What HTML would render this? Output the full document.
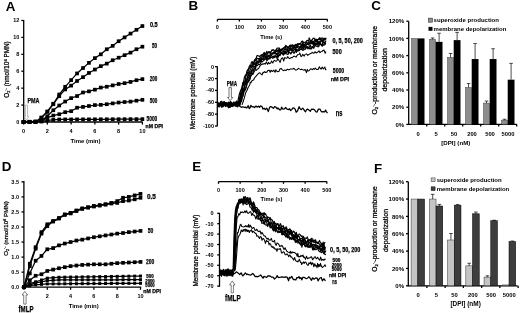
<!DOCTYPE html>
<html><head><meta charset="utf-8"><style>
html,body{margin:0;padding:0;background:#fff;width:520px;height:313px;overflow:hidden;}
svg{display:block;font-family:"Liberation Sans",sans-serif;will-change:transform;}
text{stroke:none;} .hv{stroke:#000;stroke-width:0.25px;}
</style></head><body>
<svg width="520" height="313" viewBox="0 0 520 313" font-family="Liberation Sans, sans-serif">
<defs><filter id="bl" x="0" y="0" width="520" height="313" filterUnits="userSpaceOnUse"><feGaussianBlur stdDeviation="0.3"/></filter></defs><rect width="520" height="313" fill="#fff"/><g filter="url(#bl)"><text x="5.80" y="10.50" font-size="13.40" font-weight="bold" text-anchor="start" fill="#000" >A</text>
<line x1="23.70" y1="20.00" x2="23.70" y2="122.60" stroke="#000" stroke-width="1.3"/>
<line x1="21.30" y1="122.00" x2="23.70" y2="122.00" stroke="#000" stroke-width="1.3"/>
<text x="19.40" y="123.95" font-size="5.50" font-weight="bold" text-anchor="end" fill="#000" >0</text>
<line x1="21.30" y1="105.08" x2="23.70" y2="105.08" stroke="#000" stroke-width="1.3"/>
<text x="19.40" y="107.03" font-size="5.50" font-weight="bold" text-anchor="end" fill="#000" >2</text>
<line x1="21.30" y1="88.16" x2="23.70" y2="88.16" stroke="#000" stroke-width="1.3"/>
<text x="19.40" y="90.11" font-size="5.50" font-weight="bold" text-anchor="end" fill="#000" >4</text>
<line x1="21.30" y1="71.24" x2="23.70" y2="71.24" stroke="#000" stroke-width="1.3"/>
<text x="19.40" y="73.19" font-size="5.50" font-weight="bold" text-anchor="end" fill="#000" >6</text>
<line x1="21.30" y1="54.32" x2="23.70" y2="54.32" stroke="#000" stroke-width="1.3"/>
<text x="19.40" y="56.27" font-size="5.50" font-weight="bold" text-anchor="end" fill="#000" >8</text>
<line x1="21.30" y1="37.40" x2="23.70" y2="37.40" stroke="#000" stroke-width="1.3"/>
<text x="19.40" y="39.35" font-size="5.50" font-weight="bold" text-anchor="end" fill="#000" >10</text>
<line x1="21.30" y1="20.48" x2="23.70" y2="20.48" stroke="#000" stroke-width="1.3"/>
<text x="19.40" y="22.43" font-size="5.50" font-weight="bold" text-anchor="end" fill="#000" >12</text>
<line x1="23.10" y1="122.00" x2="142.80" y2="122.00" stroke="#000" stroke-width="1.3"/>
<line x1="23.60" y1="122.00" x2="23.60" y2="124.60" stroke="#000" stroke-width="1.3"/>
<text x="23.60" y="132.90" font-size="5.50" font-weight="bold" text-anchor="middle" fill="#000" >0</text>
<line x1="47.36" y1="122.00" x2="47.36" y2="124.60" stroke="#000" stroke-width="1.3"/>
<text x="47.36" y="132.90" font-size="5.50" font-weight="bold" text-anchor="middle" fill="#000" >2</text>
<line x1="71.12" y1="122.00" x2="71.12" y2="124.60" stroke="#000" stroke-width="1.3"/>
<text x="71.12" y="132.90" font-size="5.50" font-weight="bold" text-anchor="middle" fill="#000" >4</text>
<line x1="94.88" y1="122.00" x2="94.88" y2="124.60" stroke="#000" stroke-width="1.3"/>
<text x="94.88" y="132.90" font-size="5.50" font-weight="bold" text-anchor="middle" fill="#000" >6</text>
<line x1="118.64" y1="122.00" x2="118.64" y2="124.60" stroke="#000" stroke-width="1.3"/>
<text x="118.64" y="132.90" font-size="5.50" font-weight="bold" text-anchor="middle" fill="#000" >8</text>
<line x1="142.40" y1="122.00" x2="142.40" y2="124.60" stroke="#000" stroke-width="1.3"/>
<text x="142.40" y="132.90" font-size="5.50" font-weight="bold" text-anchor="middle" fill="#000" >10</text>
<text x="85.50" y="142.60" font-size="6.00" font-weight="bold" text-anchor="middle" fill="#000" textLength="30.00" lengthAdjust="spacingAndGlyphs" >Time (min)</text>
<text x="9.20" y="69.50" font-size="6.30" font-weight="normal" text-anchor="middle" fill="#000" textLength="56.50" lengthAdjust="spacingAndGlyphs" transform="rotate(-90 9.20 69.50)" class="hv">O<tspan font-size="3.8" dy="1.3">2</tspan><tspan font-size="3.8" dy="-3.3">·-</tspan><tspan dy="2.0"> (nmol/10</tspan><tspan font-size="4.2" dy="-2.4">6</tspan><tspan dy="2.4"> PMN)</tspan></text>
<polyline points="23.60,122.00 29.54,122.00 35.48,122.00 41.42,117.52 47.36,111.42 53.30,103.73 59.24,94.50 65.18,86.81 71.12,80.12 77.06,73.44 83.00,68.03 88.94,62.86 94.88,58.13 100.82,54.32 106.76,49.24 112.70,45.86 118.64,41.21 124.58,37.40 130.52,33.59 136.46,29.79 142.40,26.06" fill="none" stroke="#000" stroke-width="1.25" stroke-linejoin="round"/>
<rect x="21.75" y="120.15" width="3.70" height="3.70" fill="#000"/>
<rect x="27.69" y="120.15" width="3.70" height="3.70" fill="#000"/>
<rect x="33.63" y="120.15" width="3.70" height="3.70" fill="#000"/>
<rect x="39.57" y="115.67" width="3.70" height="3.70" fill="#000"/>
<rect x="45.51" y="109.58" width="3.70" height="3.70" fill="#000"/>
<rect x="51.45" y="101.88" width="3.70" height="3.70" fill="#000"/>
<rect x="57.39" y="92.66" width="3.70" height="3.70" fill="#000"/>
<rect x="63.33" y="84.96" width="3.70" height="3.70" fill="#000"/>
<rect x="69.27" y="78.27" width="3.70" height="3.70" fill="#000"/>
<rect x="75.21" y="71.59" width="3.70" height="3.70" fill="#000"/>
<rect x="81.15" y="66.18" width="3.70" height="3.70" fill="#000"/>
<rect x="87.09" y="61.01" width="3.70" height="3.70" fill="#000"/>
<rect x="93.03" y="56.28" width="3.70" height="3.70" fill="#000"/>
<rect x="98.97" y="52.47" width="3.70" height="3.70" fill="#000"/>
<rect x="104.91" y="47.39" width="3.70" height="3.70" fill="#000"/>
<rect x="110.85" y="44.01" width="3.70" height="3.70" fill="#000"/>
<rect x="116.79" y="39.36" width="3.70" height="3.70" fill="#000"/>
<rect x="122.73" y="35.55" width="3.70" height="3.70" fill="#000"/>
<rect x="128.67" y="31.74" width="3.70" height="3.70" fill="#000"/>
<rect x="134.61" y="27.94" width="3.70" height="3.70" fill="#000"/>
<rect x="140.55" y="24.21" width="3.70" height="3.70" fill="#000"/>
<polyline points="23.60,122.00 29.54,122.00 35.48,122.00 41.42,117.77 47.36,111.85 53.30,104.23 59.24,96.20 65.18,89.43 71.12,85.62 77.06,80.97 83.00,77.16 88.94,72.93 94.88,69.55 100.82,66.16 106.76,63.63 112.70,60.24 118.64,57.70 124.58,55.17 130.52,52.63 136.46,49.24 142.40,46.71" fill="none" stroke="#000" stroke-width="1.25" stroke-linejoin="round"/>
<rect x="21.75" y="120.15" width="3.70" height="3.70" fill="#000"/>
<rect x="27.69" y="120.15" width="3.70" height="3.70" fill="#000"/>
<rect x="33.63" y="120.15" width="3.70" height="3.70" fill="#000"/>
<rect x="39.57" y="115.92" width="3.70" height="3.70" fill="#000"/>
<rect x="45.51" y="110.00" width="3.70" height="3.70" fill="#000"/>
<rect x="51.45" y="102.38" width="3.70" height="3.70" fill="#000"/>
<rect x="57.39" y="94.35" width="3.70" height="3.70" fill="#000"/>
<rect x="63.33" y="87.58" width="3.70" height="3.70" fill="#000"/>
<rect x="69.27" y="83.77" width="3.70" height="3.70" fill="#000"/>
<rect x="75.21" y="79.12" width="3.70" height="3.70" fill="#000"/>
<rect x="81.15" y="75.31" width="3.70" height="3.70" fill="#000"/>
<rect x="87.09" y="71.08" width="3.70" height="3.70" fill="#000"/>
<rect x="93.03" y="67.70" width="3.70" height="3.70" fill="#000"/>
<rect x="98.97" y="64.31" width="3.70" height="3.70" fill="#000"/>
<rect x="104.91" y="61.78" width="3.70" height="3.70" fill="#000"/>
<rect x="110.85" y="58.39" width="3.70" height="3.70" fill="#000"/>
<rect x="116.79" y="55.85" width="3.70" height="3.70" fill="#000"/>
<rect x="122.73" y="53.32" width="3.70" height="3.70" fill="#000"/>
<rect x="128.67" y="50.78" width="3.70" height="3.70" fill="#000"/>
<rect x="134.61" y="47.39" width="3.70" height="3.70" fill="#000"/>
<rect x="140.55" y="44.86" width="3.70" height="3.70" fill="#000"/>
<polyline points="23.60,122.00 29.54,122.00 35.48,122.00 41.42,120.31 47.36,116.16 53.30,110.24 59.24,105.50 65.18,101.53 71.12,98.14 77.06,96.03 83.00,92.47 88.94,91.37 94.88,89.68 100.82,87.57 106.76,86.72 112.70,85.37 118.64,84.01 124.58,83.17 130.52,81.90 136.46,80.21 142.40,79.11" fill="none" stroke="#000" stroke-width="1.25" stroke-linejoin="round"/>
<rect x="21.75" y="120.15" width="3.70" height="3.70" fill="#000"/>
<rect x="27.69" y="120.15" width="3.70" height="3.70" fill="#000"/>
<rect x="33.63" y="120.15" width="3.70" height="3.70" fill="#000"/>
<rect x="39.57" y="118.46" width="3.70" height="3.70" fill="#000"/>
<rect x="45.51" y="114.31" width="3.70" height="3.70" fill="#000"/>
<rect x="51.45" y="108.39" width="3.70" height="3.70" fill="#000"/>
<rect x="57.39" y="103.65" width="3.70" height="3.70" fill="#000"/>
<rect x="63.33" y="99.68" width="3.70" height="3.70" fill="#000"/>
<rect x="69.27" y="96.29" width="3.70" height="3.70" fill="#000"/>
<rect x="75.21" y="94.18" width="3.70" height="3.70" fill="#000"/>
<rect x="81.15" y="90.62" width="3.70" height="3.70" fill="#000"/>
<rect x="87.09" y="89.52" width="3.70" height="3.70" fill="#000"/>
<rect x="93.03" y="87.83" width="3.70" height="3.70" fill="#000"/>
<rect x="98.97" y="85.72" width="3.70" height="3.70" fill="#000"/>
<rect x="104.91" y="84.87" width="3.70" height="3.70" fill="#000"/>
<rect x="110.85" y="83.52" width="3.70" height="3.70" fill="#000"/>
<rect x="116.79" y="82.16" width="3.70" height="3.70" fill="#000"/>
<rect x="122.73" y="81.32" width="3.70" height="3.70" fill="#000"/>
<rect x="128.67" y="80.05" width="3.70" height="3.70" fill="#000"/>
<rect x="134.61" y="78.36" width="3.70" height="3.70" fill="#000"/>
<rect x="140.55" y="77.26" width="3.70" height="3.70" fill="#000"/>
<polyline points="23.60,122.00 29.54,121.72 35.48,121.44 41.42,121.15 47.36,117.60 53.30,115.57 59.24,114.22 65.18,112.19 71.12,111.17 77.06,107.70 83.00,106.94 88.94,106.01 94.88,105.08 100.82,104.83 106.76,104.23 112.70,103.39 118.64,102.54 124.58,102.03 130.52,101.61 136.46,100.68 142.40,99.83" fill="none" stroke="#000" stroke-width="1.25" stroke-linejoin="round"/>
<rect x="21.75" y="120.15" width="3.70" height="3.70" fill="#000"/>
<rect x="27.69" y="119.87" width="3.70" height="3.70" fill="#000"/>
<rect x="33.63" y="119.59" width="3.70" height="3.70" fill="#000"/>
<rect x="39.57" y="119.30" width="3.70" height="3.70" fill="#000"/>
<rect x="45.51" y="115.75" width="3.70" height="3.70" fill="#000"/>
<rect x="51.45" y="113.72" width="3.70" height="3.70" fill="#000"/>
<rect x="57.39" y="112.37" width="3.70" height="3.70" fill="#000"/>
<rect x="63.33" y="110.34" width="3.70" height="3.70" fill="#000"/>
<rect x="69.27" y="109.32" width="3.70" height="3.70" fill="#000"/>
<rect x="75.21" y="105.85" width="3.70" height="3.70" fill="#000"/>
<rect x="81.15" y="105.09" width="3.70" height="3.70" fill="#000"/>
<rect x="87.09" y="104.16" width="3.70" height="3.70" fill="#000"/>
<rect x="93.03" y="103.23" width="3.70" height="3.70" fill="#000"/>
<rect x="98.97" y="102.98" width="3.70" height="3.70" fill="#000"/>
<rect x="104.91" y="102.38" width="3.70" height="3.70" fill="#000"/>
<rect x="110.85" y="101.54" width="3.70" height="3.70" fill="#000"/>
<rect x="116.79" y="100.69" width="3.70" height="3.70" fill="#000"/>
<rect x="122.73" y="100.18" width="3.70" height="3.70" fill="#000"/>
<rect x="128.67" y="99.76" width="3.70" height="3.70" fill="#000"/>
<rect x="134.61" y="98.83" width="3.70" height="3.70" fill="#000"/>
<rect x="140.55" y="97.98" width="3.70" height="3.70" fill="#000"/>
<polyline points="23.60,122.00 29.54,121.86 35.48,121.72 41.42,121.58 47.36,120.31 53.30,119.89 59.24,119.46 65.18,119.44 71.12,119.41 77.06,119.39 83.00,119.37 88.94,119.34 94.88,119.32 100.82,119.29 106.76,119.27 112.70,119.24 118.64,119.22 124.58,119.20 130.52,119.17 136.46,119.15 142.40,119.12" fill="none" stroke="#000" stroke-width="1.25" stroke-linejoin="round"/>
<rect x="21.75" y="120.15" width="3.70" height="3.70" fill="#000"/>
<rect x="27.69" y="120.01" width="3.70" height="3.70" fill="#000"/>
<rect x="33.63" y="119.87" width="3.70" height="3.70" fill="#000"/>
<rect x="39.57" y="119.73" width="3.70" height="3.70" fill="#000"/>
<rect x="45.51" y="118.46" width="3.70" height="3.70" fill="#000"/>
<rect x="51.45" y="118.04" width="3.70" height="3.70" fill="#000"/>
<rect x="57.39" y="117.61" width="3.70" height="3.70" fill="#000"/>
<rect x="63.33" y="117.59" width="3.70" height="3.70" fill="#000"/>
<rect x="69.27" y="117.56" width="3.70" height="3.70" fill="#000"/>
<rect x="75.21" y="117.54" width="3.70" height="3.70" fill="#000"/>
<rect x="81.15" y="117.52" width="3.70" height="3.70" fill="#000"/>
<rect x="87.09" y="117.49" width="3.70" height="3.70" fill="#000"/>
<rect x="93.03" y="117.47" width="3.70" height="3.70" fill="#000"/>
<rect x="98.97" y="117.44" width="3.70" height="3.70" fill="#000"/>
<rect x="104.91" y="117.42" width="3.70" height="3.70" fill="#000"/>
<rect x="110.85" y="117.39" width="3.70" height="3.70" fill="#000"/>
<rect x="116.79" y="117.37" width="3.70" height="3.70" fill="#000"/>
<rect x="122.73" y="117.35" width="3.70" height="3.70" fill="#000"/>
<rect x="128.67" y="117.32" width="3.70" height="3.70" fill="#000"/>
<rect x="134.61" y="117.30" width="3.70" height="3.70" fill="#000"/>
<rect x="140.55" y="117.27" width="3.70" height="3.70" fill="#000"/>
<text x="150.00" y="26.50" font-size="6.50" font-weight="bold" text-anchor="start" fill="#000" textLength="7.70" lengthAdjust="spacingAndGlyphs" class="hv">0.5</text>
<text x="151.90" y="48.20" font-size="6.78" font-weight="bold" text-anchor="start" fill="#000" textLength="5.10" lengthAdjust="spacingAndGlyphs" class="hv">50</text>
<text x="149.70" y="81.10" font-size="6.64" font-weight="bold" text-anchor="start" fill="#000" textLength="7.60" lengthAdjust="spacingAndGlyphs" class="hv">200</text>
<text x="149.70" y="102.50" font-size="6.64" font-weight="bold" text-anchor="start" fill="#000" textLength="7.60" lengthAdjust="spacingAndGlyphs" class="hv">500</text>
<text x="146.60" y="121.00" font-size="6.50" font-weight="bold" text-anchor="start" fill="#000" textLength="10.70" lengthAdjust="spacingAndGlyphs" class="hv">5000</text>
<text x="145.60" y="127.70" font-size="5.00" font-weight="bold" text-anchor="start" fill="#000" textLength="17.40" lengthAdjust="spacingAndGlyphs" class="hv">nM DPI</text>
<path d="M25.4,105.2 L25.4,116.5 L24.3,116.5 L26.5,120.3 L28.7,116.5 L27.6,116.5 L27.6,105.2 Z" fill="#fff" stroke="#888" stroke-width="0.6"/>
<text x="27.40" y="102.90" font-size="7.70" font-weight="bold" text-anchor="start" fill="#000" textLength="12.10" lengthAdjust="spacingAndGlyphs" class="hv">PMA</text>
<text x="1.80" y="170.60" font-size="13.40" font-weight="bold" text-anchor="start" fill="#000" >D</text>
<line x1="23.90" y1="181.00" x2="23.90" y2="287.60" stroke="#000" stroke-width="1.3"/>
<line x1="21.50" y1="287.20" x2="23.90" y2="287.20" stroke="#000" stroke-width="1.3"/>
<text x="19.00" y="289.15" font-size="5.50" font-weight="bold" text-anchor="end" fill="#000" >0.0</text>
<line x1="21.50" y1="272.15" x2="23.90" y2="272.15" stroke="#000" stroke-width="1.3"/>
<text x="19.00" y="274.10" font-size="5.50" font-weight="bold" text-anchor="end" fill="#000" >0.5</text>
<line x1="21.50" y1="257.10" x2="23.90" y2="257.10" stroke="#000" stroke-width="1.3"/>
<text x="19.00" y="259.05" font-size="5.50" font-weight="bold" text-anchor="end" fill="#000" >1.0</text>
<line x1="21.50" y1="242.05" x2="23.90" y2="242.05" stroke="#000" stroke-width="1.3"/>
<text x="19.00" y="244.00" font-size="5.50" font-weight="bold" text-anchor="end" fill="#000" >1.5</text>
<line x1="21.50" y1="227.00" x2="23.90" y2="227.00" stroke="#000" stroke-width="1.3"/>
<text x="19.00" y="228.95" font-size="5.50" font-weight="bold" text-anchor="end" fill="#000" >2.0</text>
<line x1="21.50" y1="211.95" x2="23.90" y2="211.95" stroke="#000" stroke-width="1.3"/>
<text x="19.00" y="213.90" font-size="5.50" font-weight="bold" text-anchor="end" fill="#000" >2.5</text>
<line x1="21.50" y1="196.90" x2="23.90" y2="196.90" stroke="#000" stroke-width="1.3"/>
<text x="19.00" y="198.85" font-size="5.50" font-weight="bold" text-anchor="end" fill="#000" >3.0</text>
<line x1="21.50" y1="181.85" x2="23.90" y2="181.85" stroke="#000" stroke-width="1.3"/>
<text x="19.00" y="183.80" font-size="5.50" font-weight="bold" text-anchor="end" fill="#000" >3.5</text>
<line x1="23.40" y1="287.20" x2="141.20" y2="287.20" stroke="#000" stroke-width="1.3"/>
<line x1="24.00" y1="287.20" x2="24.00" y2="289.80" stroke="#000" stroke-width="1.3"/>
<line x1="47.30" y1="287.20" x2="47.30" y2="289.80" stroke="#000" stroke-width="1.3"/>
<text x="47.30" y="298.00" font-size="5.50" font-weight="bold" text-anchor="middle" fill="#000" >2</text>
<line x1="70.60" y1="287.20" x2="70.60" y2="289.80" stroke="#000" stroke-width="1.3"/>
<text x="70.60" y="298.00" font-size="5.50" font-weight="bold" text-anchor="middle" fill="#000" >4</text>
<line x1="93.90" y1="287.20" x2="93.90" y2="289.80" stroke="#000" stroke-width="1.3"/>
<text x="93.90" y="298.00" font-size="5.50" font-weight="bold" text-anchor="middle" fill="#000" >6</text>
<line x1="117.20" y1="287.20" x2="117.20" y2="289.80" stroke="#000" stroke-width="1.3"/>
<text x="117.20" y="298.00" font-size="5.50" font-weight="bold" text-anchor="middle" fill="#000" >8</text>
<line x1="140.50" y1="287.20" x2="140.50" y2="289.80" stroke="#000" stroke-width="1.3"/>
<text x="140.50" y="298.00" font-size="5.50" font-weight="bold" text-anchor="middle" fill="#000" >10</text>
<text x="83.70" y="307.70" font-size="6.00" font-weight="bold" text-anchor="middle" fill="#000" textLength="30.00" lengthAdjust="spacingAndGlyphs" >Time (min)</text>
<text x="8.00" y="228.50" font-size="6.20" font-weight="normal" text-anchor="middle" fill="#000" textLength="54.50" lengthAdjust="spacingAndGlyphs" transform="rotate(-90 8.00 228.50)" class="hv">O<tspan font-size="3.8" dy="1.3">2</tspan><tspan font-size="3.8" dy="-3.3">·-</tspan><tspan dy="2.0"> (nmol/10</tspan><tspan font-size="4.2" dy="-2.4">6</tspan><tspan dy="2.4"> PMN)</tspan></text>
<polyline points="24.00,287.20 29.82,263.72 35.65,247.17 41.48,232.12 47.30,224.29 53.12,220.98 58.95,217.97 64.78,214.36 70.60,212.85 76.43,210.44 82.25,208.34 88.08,207.13 93.90,205.93 99.73,205.03 105.55,204.12 111.38,202.92 117.20,201.11 123.03,197.80 128.85,196.90 134.68,195.39 140.50,193.89" fill="none" stroke="#000" stroke-width="1.25" stroke-linejoin="round"/>
<rect x="22.15" y="285.35" width="3.70" height="3.70" fill="#000"/>
<rect x="27.97" y="261.87" width="3.70" height="3.70" fill="#000"/>
<rect x="33.80" y="245.32" width="3.70" height="3.70" fill="#000"/>
<rect x="39.62" y="230.27" width="3.70" height="3.70" fill="#000"/>
<rect x="45.45" y="222.44" width="3.70" height="3.70" fill="#000"/>
<rect x="51.27" y="219.13" width="3.70" height="3.70" fill="#000"/>
<rect x="57.10" y="216.12" width="3.70" height="3.70" fill="#000"/>
<rect x="62.93" y="212.51" width="3.70" height="3.70" fill="#000"/>
<rect x="68.75" y="211.00" width="3.70" height="3.70" fill="#000"/>
<rect x="74.58" y="208.59" width="3.70" height="3.70" fill="#000"/>
<rect x="80.40" y="206.49" width="3.70" height="3.70" fill="#000"/>
<rect x="86.23" y="205.28" width="3.70" height="3.70" fill="#000"/>
<rect x="92.05" y="204.08" width="3.70" height="3.70" fill="#000"/>
<rect x="97.88" y="203.18" width="3.70" height="3.70" fill="#000"/>
<rect x="103.70" y="202.27" width="3.70" height="3.70" fill="#000"/>
<rect x="109.53" y="201.07" width="3.70" height="3.70" fill="#000"/>
<rect x="115.35" y="199.26" width="3.70" height="3.70" fill="#000"/>
<rect x="121.18" y="195.95" width="3.70" height="3.70" fill="#000"/>
<rect x="127.00" y="195.05" width="3.70" height="3.70" fill="#000"/>
<rect x="132.83" y="193.54" width="3.70" height="3.70" fill="#000"/>
<rect x="138.65" y="192.04" width="3.70" height="3.70" fill="#000"/>
<polyline points="24.00,287.20 29.82,266.13 35.65,248.67 41.48,233.62 47.30,226.10 53.12,221.58 58.95,218.57 64.78,214.96 70.60,213.45 76.43,211.05 82.25,208.94 88.08,207.74 93.90,206.53 99.73,205.63 105.55,204.73 111.38,203.52 117.20,202.92 123.03,201.11 128.85,200.51 134.68,199.31 140.50,197.80" fill="none" stroke="#000" stroke-width="1.25" stroke-linejoin="round"/>
<rect x="22.15" y="285.35" width="3.70" height="3.70" fill="#000"/>
<rect x="27.97" y="264.28" width="3.70" height="3.70" fill="#000"/>
<rect x="33.80" y="246.82" width="3.70" height="3.70" fill="#000"/>
<rect x="39.62" y="231.77" width="3.70" height="3.70" fill="#000"/>
<rect x="45.45" y="224.25" width="3.70" height="3.70" fill="#000"/>
<rect x="51.27" y="219.73" width="3.70" height="3.70" fill="#000"/>
<rect x="57.10" y="216.72" width="3.70" height="3.70" fill="#000"/>
<rect x="62.93" y="213.11" width="3.70" height="3.70" fill="#000"/>
<rect x="68.75" y="211.60" width="3.70" height="3.70" fill="#000"/>
<rect x="74.58" y="209.20" width="3.70" height="3.70" fill="#000"/>
<rect x="80.40" y="207.09" width="3.70" height="3.70" fill="#000"/>
<rect x="86.23" y="205.89" width="3.70" height="3.70" fill="#000"/>
<rect x="92.05" y="204.68" width="3.70" height="3.70" fill="#000"/>
<rect x="97.88" y="203.78" width="3.70" height="3.70" fill="#000"/>
<rect x="103.70" y="202.88" width="3.70" height="3.70" fill="#000"/>
<rect x="109.53" y="201.67" width="3.70" height="3.70" fill="#000"/>
<rect x="115.35" y="201.07" width="3.70" height="3.70" fill="#000"/>
<rect x="121.18" y="199.26" width="3.70" height="3.70" fill="#000"/>
<rect x="127.00" y="198.66" width="3.70" height="3.70" fill="#000"/>
<rect x="132.83" y="197.46" width="3.70" height="3.70" fill="#000"/>
<rect x="138.65" y="195.95" width="3.70" height="3.70" fill="#000"/>
<polyline points="24.00,287.20 29.82,273.35 35.65,260.71 41.48,255.90 47.30,249.27 53.12,248.07 58.95,245.36 64.78,243.55 70.60,242.05 76.43,240.54 82.25,239.64 88.08,238.44 93.90,237.23 99.73,236.33 105.55,235.43 111.38,234.52 117.20,233.62 123.03,233.02 128.85,232.12 134.68,231.51 140.50,230.91" fill="none" stroke="#000" stroke-width="1.25" stroke-linejoin="round"/>
<rect x="22.15" y="285.35" width="3.70" height="3.70" fill="#000"/>
<rect x="27.97" y="271.50" width="3.70" height="3.70" fill="#000"/>
<rect x="33.80" y="258.86" width="3.70" height="3.70" fill="#000"/>
<rect x="39.62" y="254.05" width="3.70" height="3.70" fill="#000"/>
<rect x="45.45" y="247.42" width="3.70" height="3.70" fill="#000"/>
<rect x="51.27" y="246.22" width="3.70" height="3.70" fill="#000"/>
<rect x="57.10" y="243.51" width="3.70" height="3.70" fill="#000"/>
<rect x="62.93" y="241.70" width="3.70" height="3.70" fill="#000"/>
<rect x="68.75" y="240.20" width="3.70" height="3.70" fill="#000"/>
<rect x="74.58" y="238.69" width="3.70" height="3.70" fill="#000"/>
<rect x="80.40" y="237.79" width="3.70" height="3.70" fill="#000"/>
<rect x="86.23" y="236.59" width="3.70" height="3.70" fill="#000"/>
<rect x="92.05" y="235.38" width="3.70" height="3.70" fill="#000"/>
<rect x="97.88" y="234.48" width="3.70" height="3.70" fill="#000"/>
<rect x="103.70" y="233.58" width="3.70" height="3.70" fill="#000"/>
<rect x="109.53" y="232.67" width="3.70" height="3.70" fill="#000"/>
<rect x="115.35" y="231.77" width="3.70" height="3.70" fill="#000"/>
<rect x="121.18" y="231.17" width="3.70" height="3.70" fill="#000"/>
<rect x="127.00" y="230.27" width="3.70" height="3.70" fill="#000"/>
<rect x="132.83" y="229.66" width="3.70" height="3.70" fill="#000"/>
<rect x="138.65" y="229.06" width="3.70" height="3.70" fill="#000"/>
<polyline points="24.00,287.20 29.82,280.28 35.65,275.76 41.48,274.26 47.30,270.95 53.12,269.59 58.95,268.24 64.78,267.18 70.60,266.13 76.43,265.53 82.25,264.93 88.08,264.62 93.90,264.32 99.73,264.32 105.55,264.32 111.38,263.72 117.20,263.12 123.03,262.82 128.85,262.52 134.68,262.22 140.50,261.92" fill="none" stroke="#000" stroke-width="1.25" stroke-linejoin="round"/>
<rect x="22.15" y="285.35" width="3.70" height="3.70" fill="#000"/>
<rect x="27.97" y="278.43" width="3.70" height="3.70" fill="#000"/>
<rect x="33.80" y="273.91" width="3.70" height="3.70" fill="#000"/>
<rect x="39.62" y="272.41" width="3.70" height="3.70" fill="#000"/>
<rect x="45.45" y="269.10" width="3.70" height="3.70" fill="#000"/>
<rect x="51.27" y="267.74" width="3.70" height="3.70" fill="#000"/>
<rect x="57.10" y="266.39" width="3.70" height="3.70" fill="#000"/>
<rect x="62.93" y="265.33" width="3.70" height="3.70" fill="#000"/>
<rect x="68.75" y="264.28" width="3.70" height="3.70" fill="#000"/>
<rect x="74.58" y="263.68" width="3.70" height="3.70" fill="#000"/>
<rect x="80.40" y="263.08" width="3.70" height="3.70" fill="#000"/>
<rect x="86.23" y="262.77" width="3.70" height="3.70" fill="#000"/>
<rect x="92.05" y="262.47" width="3.70" height="3.70" fill="#000"/>
<rect x="97.88" y="262.47" width="3.70" height="3.70" fill="#000"/>
<rect x="103.70" y="262.47" width="3.70" height="3.70" fill="#000"/>
<rect x="109.53" y="261.87" width="3.70" height="3.70" fill="#000"/>
<rect x="115.35" y="261.27" width="3.70" height="3.70" fill="#000"/>
<rect x="121.18" y="260.97" width="3.70" height="3.70" fill="#000"/>
<rect x="127.00" y="260.67" width="3.70" height="3.70" fill="#000"/>
<rect x="132.83" y="260.37" width="3.70" height="3.70" fill="#000"/>
<rect x="138.65" y="260.07" width="3.70" height="3.70" fill="#000"/>
<polyline points="24.00,287.20 29.82,283.59 35.65,281.78 41.48,279.98 47.30,278.17 53.12,277.72 58.95,277.27 64.78,277.18 70.60,277.09 76.43,277.01 82.25,276.92 88.08,276.84 93.90,276.75 99.73,276.66 105.55,276.58 111.38,276.49 117.20,276.41 123.03,276.32 128.85,276.24 134.68,276.15 140.50,276.06" fill="none" stroke="#000" stroke-width="1.25" stroke-linejoin="round"/>
<rect x="22.50" y="285.70" width="3.00" height="3.00" fill="#000"/>
<rect x="28.32" y="282.09" width="3.00" height="3.00" fill="#000"/>
<rect x="34.15" y="280.28" width="3.00" height="3.00" fill="#000"/>
<rect x="39.98" y="278.48" width="3.00" height="3.00" fill="#000"/>
<rect x="45.80" y="276.67" width="3.00" height="3.00" fill="#000"/>
<rect x="51.62" y="276.22" width="3.00" height="3.00" fill="#000"/>
<rect x="57.45" y="275.77" width="3.00" height="3.00" fill="#000"/>
<rect x="63.28" y="275.68" width="3.00" height="3.00" fill="#000"/>
<rect x="69.10" y="275.59" width="3.00" height="3.00" fill="#000"/>
<rect x="74.93" y="275.51" width="3.00" height="3.00" fill="#000"/>
<rect x="80.75" y="275.42" width="3.00" height="3.00" fill="#000"/>
<rect x="86.58" y="275.34" width="3.00" height="3.00" fill="#000"/>
<rect x="92.40" y="275.25" width="3.00" height="3.00" fill="#000"/>
<rect x="98.23" y="275.16" width="3.00" height="3.00" fill="#000"/>
<rect x="104.05" y="275.08" width="3.00" height="3.00" fill="#000"/>
<rect x="109.88" y="274.99" width="3.00" height="3.00" fill="#000"/>
<rect x="115.70" y="274.91" width="3.00" height="3.00" fill="#000"/>
<rect x="121.53" y="274.82" width="3.00" height="3.00" fill="#000"/>
<rect x="127.35" y="274.74" width="3.00" height="3.00" fill="#000"/>
<rect x="133.18" y="274.65" width="3.00" height="3.00" fill="#000"/>
<rect x="139.00" y="274.56" width="3.00" height="3.00" fill="#000"/>
<polyline points="24.00,287.20 29.82,284.79 35.65,282.99 41.48,281.78 47.30,280.58 53.12,280.28 58.95,279.98 64.78,279.95 70.60,279.93 76.43,279.91 82.25,279.89 88.08,279.87 93.90,279.85 99.73,279.83 105.55,279.80 111.38,279.78 117.20,279.76 123.03,279.74 128.85,279.72 134.68,279.70 140.50,279.68" fill="none" stroke="#000" stroke-width="1.25" stroke-linejoin="round"/>
<rect x="22.50" y="285.70" width="3.00" height="3.00" fill="#000"/>
<rect x="28.32" y="283.29" width="3.00" height="3.00" fill="#000"/>
<rect x="34.15" y="281.49" width="3.00" height="3.00" fill="#000"/>
<rect x="39.98" y="280.28" width="3.00" height="3.00" fill="#000"/>
<rect x="45.80" y="279.08" width="3.00" height="3.00" fill="#000"/>
<rect x="51.62" y="278.78" width="3.00" height="3.00" fill="#000"/>
<rect x="57.45" y="278.48" width="3.00" height="3.00" fill="#000"/>
<rect x="63.28" y="278.45" width="3.00" height="3.00" fill="#000"/>
<rect x="69.10" y="278.43" width="3.00" height="3.00" fill="#000"/>
<rect x="74.93" y="278.41" width="3.00" height="3.00" fill="#000"/>
<rect x="80.75" y="278.39" width="3.00" height="3.00" fill="#000"/>
<rect x="86.58" y="278.37" width="3.00" height="3.00" fill="#000"/>
<rect x="92.40" y="278.35" width="3.00" height="3.00" fill="#000"/>
<rect x="98.23" y="278.33" width="3.00" height="3.00" fill="#000"/>
<rect x="104.05" y="278.30" width="3.00" height="3.00" fill="#000"/>
<rect x="109.88" y="278.28" width="3.00" height="3.00" fill="#000"/>
<rect x="115.70" y="278.26" width="3.00" height="3.00" fill="#000"/>
<rect x="121.53" y="278.24" width="3.00" height="3.00" fill="#000"/>
<rect x="127.35" y="278.22" width="3.00" height="3.00" fill="#000"/>
<rect x="133.18" y="278.20" width="3.00" height="3.00" fill="#000"/>
<rect x="139.00" y="278.18" width="3.00" height="3.00" fill="#000"/>
<polyline points="24.00,287.20 29.82,285.69 35.65,284.79 41.48,284.34 47.30,283.89 53.12,283.85 58.95,283.81 64.78,283.78 70.60,283.74 76.43,283.70 82.25,283.66 88.08,283.63 93.90,283.59 99.73,283.55 105.55,283.51 111.38,283.48 117.20,283.44 123.03,283.40 128.85,283.36 134.68,283.32 140.50,283.29" fill="none" stroke="#000" stroke-width="1.25" stroke-linejoin="round"/>
<rect x="22.50" y="285.70" width="3.00" height="3.00" fill="#000"/>
<rect x="28.32" y="284.19" width="3.00" height="3.00" fill="#000"/>
<rect x="34.15" y="283.29" width="3.00" height="3.00" fill="#000"/>
<rect x="39.98" y="282.84" width="3.00" height="3.00" fill="#000"/>
<rect x="45.80" y="282.39" width="3.00" height="3.00" fill="#000"/>
<rect x="51.62" y="282.35" width="3.00" height="3.00" fill="#000"/>
<rect x="57.45" y="282.31" width="3.00" height="3.00" fill="#000"/>
<rect x="63.28" y="282.28" width="3.00" height="3.00" fill="#000"/>
<rect x="69.10" y="282.24" width="3.00" height="3.00" fill="#000"/>
<rect x="74.93" y="282.20" width="3.00" height="3.00" fill="#000"/>
<rect x="80.75" y="282.16" width="3.00" height="3.00" fill="#000"/>
<rect x="86.58" y="282.13" width="3.00" height="3.00" fill="#000"/>
<rect x="92.40" y="282.09" width="3.00" height="3.00" fill="#000"/>
<rect x="98.23" y="282.05" width="3.00" height="3.00" fill="#000"/>
<rect x="104.05" y="282.01" width="3.00" height="3.00" fill="#000"/>
<rect x="109.88" y="281.98" width="3.00" height="3.00" fill="#000"/>
<rect x="115.70" y="281.94" width="3.00" height="3.00" fill="#000"/>
<rect x="121.53" y="281.90" width="3.00" height="3.00" fill="#000"/>
<rect x="127.35" y="281.86" width="3.00" height="3.00" fill="#000"/>
<rect x="133.18" y="281.82" width="3.00" height="3.00" fill="#000"/>
<rect x="139.00" y="281.79" width="3.00" height="3.00" fill="#000"/>
<text x="146.90" y="199.00" font-size="6.50" font-weight="bold" text-anchor="start" fill="#000" textLength="8.90" lengthAdjust="spacingAndGlyphs" class="hv">0.5</text>
<text x="147.70" y="233.40" font-size="6.64" font-weight="bold" text-anchor="start" fill="#000" textLength="5.60" lengthAdjust="spacingAndGlyphs" class="hv">50</text>
<text x="146.00" y="263.80" font-size="6.78" font-weight="bold" text-anchor="start" fill="#000" textLength="8.30" lengthAdjust="spacingAndGlyphs" class="hv">200</text>
<text x="146.30" y="278.30" font-size="4.80" font-weight="bold" text-anchor="start" fill="#000" textLength="7.40" lengthAdjust="spacingAndGlyphs" class="hv">500</text>
<text x="145.30" y="282.70" font-size="4.80" font-weight="bold" text-anchor="start" fill="#000" textLength="9.40" lengthAdjust="spacingAndGlyphs" class="hv">2000</text>
<text x="145.30" y="287.10" font-size="4.80" font-weight="bold" text-anchor="start" fill="#000" textLength="9.40" lengthAdjust="spacingAndGlyphs" class="hv">5000</text>
<text x="143.30" y="292.60" font-size="5.20" font-weight="bold" text-anchor="start" fill="#000" textLength="17.60" lengthAdjust="spacingAndGlyphs" class="hv">nM DPI</text>
<path d="M24.8,291.4 L22.1,295 L23.7,295 L23.7,304.1 L26.1,304.1 L26.1,295 L27.6,295 Z" fill="#fff" stroke="#000" stroke-width="0.5"/>
<text x="18.50" y="311.80" font-size="8.72" font-weight="bold" text-anchor="start" fill="#000" textLength="15.00" lengthAdjust="spacingAndGlyphs" class="hv">fMLP</text>
<text x="188.40" y="10.10" font-size="13.40" font-weight="bold" text-anchor="start" fill="#000" >B</text>
<line x1="217.40" y1="19.40" x2="327.60" y2="19.40" stroke="#000" stroke-width="1.3"/>
<line x1="217.40" y1="19.40" x2="217.40" y2="21.60" stroke="#000" stroke-width="1.3"/>
<text x="217.40" y="29.20" font-size="5.50" font-weight="bold" text-anchor="middle" fill="#000" >0</text>
<line x1="239.40" y1="19.40" x2="239.40" y2="21.60" stroke="#000" stroke-width="1.3"/>
<text x="239.40" y="29.20" font-size="5.50" font-weight="bold" text-anchor="middle" fill="#000" >100</text>
<line x1="261.40" y1="19.40" x2="261.40" y2="21.60" stroke="#000" stroke-width="1.3"/>
<text x="261.40" y="29.20" font-size="5.50" font-weight="bold" text-anchor="middle" fill="#000" >200</text>
<line x1="283.40" y1="19.40" x2="283.40" y2="21.60" stroke="#000" stroke-width="1.3"/>
<text x="283.40" y="29.20" font-size="5.50" font-weight="bold" text-anchor="middle" fill="#000" >300</text>
<line x1="305.40" y1="19.40" x2="305.40" y2="21.60" stroke="#000" stroke-width="1.3"/>
<text x="305.40" y="29.20" font-size="5.50" font-weight="bold" text-anchor="middle" fill="#000" >400</text>
<line x1="327.40" y1="19.40" x2="327.40" y2="21.60" stroke="#000" stroke-width="1.3"/>
<text x="327.40" y="29.20" font-size="5.50" font-weight="bold" text-anchor="middle" fill="#000" >500</text>
<text x="271.20" y="39.10" font-size="6.00" font-weight="bold" text-anchor="middle" fill="#000" textLength="22.00" lengthAdjust="spacingAndGlyphs" >Time (s)</text>
<line x1="217.30" y1="66.30" x2="217.30" y2="126.20" stroke="#000" stroke-width="1.3"/>
<line x1="215.00" y1="66.70" x2="217.30" y2="66.70" stroke="#000" stroke-width="1.3"/>
<text x="214.00" y="68.65" font-size="5.50" font-weight="bold" text-anchor="end" fill="#000" >0</text>
<line x1="215.00" y1="78.57" x2="217.30" y2="78.57" stroke="#000" stroke-width="1.3"/>
<text x="214.00" y="80.52" font-size="5.50" font-weight="bold" text-anchor="end" fill="#000" >-20</text>
<line x1="215.00" y1="90.44" x2="217.30" y2="90.44" stroke="#000" stroke-width="1.3"/>
<text x="214.00" y="92.39" font-size="5.50" font-weight="bold" text-anchor="end" fill="#000" >-40</text>
<line x1="215.00" y1="102.31" x2="217.30" y2="102.31" stroke="#000" stroke-width="1.3"/>
<text x="214.00" y="104.26" font-size="5.50" font-weight="bold" text-anchor="end" fill="#000" >-60</text>
<line x1="215.00" y1="114.18" x2="217.30" y2="114.18" stroke="#000" stroke-width="1.3"/>
<text x="214.00" y="116.13" font-size="5.50" font-weight="bold" text-anchor="end" fill="#000" >-80</text>
<line x1="215.00" y1="126.05" x2="217.30" y2="126.05" stroke="#000" stroke-width="1.3"/>
<text x="214.00" y="128.00" font-size="5.50" font-weight="bold" text-anchor="end" fill="#000" >-100</text>
<text x="194.60" y="93.00" font-size="6.30" font-weight="normal" text-anchor="middle" fill="#000" textLength="72.60" lengthAdjust="spacingAndGlyphs" transform="rotate(-90 194.60 93.00)" class="hv">Membrane potential (mV)</text>
<polyline points="237.00,104.32 237.65,103.19 238.27,99.08 239.43,93.92 240.35,91.08 241.17,89.40 242.20,87.48 242.74,82.68 243.46,82.85 244.34,77.40 245.42,74.94 245.96,75.60 246.83,71.57 247.60,69.63 248.17,70.37 248.98,67.23 249.91,65.15 250.53,66.58 251.36,62.52 252.10,61.56 253.01,63.06 253.68,62.49 254.60,59.82 255.38,59.26 256.23,57.80 257.02,55.66 257.56,55.53 258.75,56.04 259.60,56.44 260.58,55.60 261.20,55.03 262.14,55.29 263.20,53.93 264.20,52.49 265.23,55.33 266.20,53.32 266.84,51.25 267.49,53.67 268.32,52.53 269.11,51.85 269.87,51.81 270.80,52.54 271.35,51.12 272.11,49.75 272.94,50.35 273.72,49.74 274.85,51.81 275.90,50.66 277.09,48.08 278.17,48.25 279.18,47.91 279.80,49.12 280.46,49.67 281.36,49.46 281.88,48.73 282.75,48.46 283.48,49.13 284.58,47.12 285.19,47.93 285.72,46.95 286.50,46.24 287.60,46.91 288.78,47.05 289.53,45.72 290.33,46.82 291.27,46.81 292.03,44.96 293.19,46.25 294.27,45.39 295.29,44.64 295.92,45.46 296.65,44.61 297.64,43.62 298.81,43.94 299.61,43.65 300.70,43.56 301.53,41.56 302.70,41.13 303.72,42.94 304.43,42.56 305.32,42.05 306.06,42.01 306.99,40.41 307.70,40.71 308.63,41.08 309.16,37.94 309.75,39.12 310.71,41.90 311.26,40.28 311.79,40.36 312.55,39.19 313.38,38.24 313.98,38.07 315.04,39.63 316.06,39.22 317.00,39.59 317.66,39.51 318.75,39.18 319.47,37.72 319.99,38.57 321.07,38.15 321.68,38.13 322.38,38.18 323.27,38.42 324.22,39.29 325.04,39.31 325.81,38.70" fill="none" stroke="#000" stroke-width="1.2" stroke-linejoin="round"/>
<polyline points="237.60,104.66 238.43,101.56 239.28,100.38 239.89,97.02 240.81,92.20 241.76,88.76 242.40,85.48 243.21,84.91 244.06,82.27 245.25,80.35 245.97,75.17 246.75,75.22 247.84,71.66 248.67,69.27 249.71,67.84 250.87,66.27 251.45,67.24 252.34,63.87 252.94,62.91 253.60,64.71 254.31,61.62 255.40,59.96 256.06,61.12 256.77,58.05 257.45,58.63 258.61,58.53 259.24,58.99 259.92,57.86 260.56,58.27 261.36,54.77 262.03,55.23 262.95,54.40 263.51,55.28 264.43,55.96 264.95,52.74 265.66,54.26 266.77,54.54 267.68,53.29 268.67,51.76 269.50,52.48 270.07,53.57 271.08,53.53 271.83,53.72 272.62,53.49 273.55,52.15 274.12,53.35 275.12,52.09 275.93,49.93 276.46,51.06 277.45,51.14 278.13,49.55 278.78,51.13 279.59,49.34 280.24,50.66 281.35,49.55 281.95,50.22 282.94,48.44 283.76,47.81 284.69,47.86 285.87,45.32 286.84,47.23 287.74,47.29 288.77,48.10 289.95,45.42 290.89,45.07 291.96,46.79 292.84,44.78 293.71,45.88 294.33,46.65 295.12,45.69 295.77,44.49 296.72,46.79 297.45,44.51 298.50,44.48 299.28,44.47 300.42,43.89 300.96,44.07 302.09,45.07 302.63,44.42 303.46,45.27 304.43,44.89 305.41,43.38 306.48,42.22 307.61,43.39 308.71,42.00 309.59,42.25 310.18,41.42 310.72,42.17 311.31,40.56 312.13,42.75 312.81,41.08 313.96,41.68 314.75,40.27 315.93,40.79 316.66,40.72 317.66,39.98 318.31,39.74 319.10,38.78 320.04,39.93 320.96,39.04 322.03,39.33 323.16,41.06 323.76,39.86 324.34,38.99 324.94,38.23 325.83,39.78" fill="none" stroke="#000" stroke-width="1.2" stroke-linejoin="round"/>
<polyline points="238.20,104.99 238.81,101.48 239.87,98.40 240.83,94.22 241.95,92.67 242.93,86.25 243.99,83.78 244.79,82.89 245.67,80.31 246.78,78.98 247.75,75.64 248.69,71.83 249.38,72.89 250.10,69.90 251.00,68.22 252.09,65.74 252.63,66.66 253.29,64.40 254.14,64.87 254.90,62.92 256.00,63.06 256.88,61.30 257.80,61.58 258.43,60.04 259.02,59.70 260.16,59.59 260.75,58.80 261.50,58.17 262.32,56.33 263.41,57.12 264.42,53.86 265.02,56.45 265.83,56.76 266.97,57.06 267.88,56.84 268.62,56.06 269.14,56.38 270.26,54.82 271.03,53.56 272.18,53.89 272.77,54.18 273.45,52.63 274.06,52.11 275.08,53.96 275.61,52.20 276.58,51.16 277.73,50.92 278.37,50.32 279.23,50.09 280.15,50.37 281.24,50.19 282.27,51.21 283.44,50.91 284.45,49.89 285.16,48.56 285.85,49.99 286.99,48.50 288.11,47.31 289.20,49.32 290.13,47.76 290.90,48.86 291.55,49.14 292.09,48.99 292.85,47.13 293.95,46.76 294.47,45.81 295.09,46.69 295.73,48.21 296.31,47.12 297.18,47.82 298.12,46.98 298.91,47.02 300.05,47.16 301.21,45.59 302.13,46.84 302.69,42.54 303.83,45.32 304.97,45.15 306.14,44.75 307.08,43.69 308.16,43.82 308.89,44.64 310.08,41.98 310.68,42.01 311.49,42.48 312.40,44.07 313.14,43.39 313.70,41.94 314.78,42.36 315.52,41.45 316.36,41.23 317.06,41.64 318.20,43.80 319.31,42.45 320.40,40.96 321.35,40.40 322.43,41.96 323.27,39.73 323.93,40.60 324.63,38.78 325.65,38.32 326.46,38.67" fill="none" stroke="#000" stroke-width="1.2" stroke-linejoin="round"/>
<polyline points="238.80,104.94 239.89,99.32 240.55,96.79 241.21,95.37 242.13,91.45 243.23,89.98 244.25,87.45 245.34,84.26 246.14,80.87 246.73,80.87 247.71,78.53 248.68,74.45 249.54,73.25 250.32,71.80 250.99,71.68 251.77,69.81 252.62,68.56 253.63,66.62 254.37,66.83 255.33,65.82 256.18,62.53 256.71,63.36 257.36,62.96 257.98,62.51 258.96,62.82 259.83,60.20 260.96,60.69 261.82,58.14 262.44,59.29 263.10,59.53 264.09,56.73 265.17,57.00 266.20,56.68 267.00,54.95 267.92,56.69 268.75,55.04 269.56,56.24 270.63,53.89 271.16,53.79 272.27,52.92 272.87,53.90 273.75,52.39 274.85,53.44 275.59,52.65 276.56,53.68 277.37,53.80 278.49,51.63 279.55,51.90 280.26,49.25 280.84,53.32 281.90,52.21 282.90,52.27 283.62,51.50 284.66,51.04 285.36,52.45 286.52,49.36 287.57,49.07 288.74,50.77 289.81,50.69 290.66,47.41 291.23,49.48 291.77,50.62 292.30,50.09 293.02,49.58 293.82,46.75 294.49,47.26 295.52,48.94 296.19,46.70 296.80,47.62 297.54,45.63 298.14,46.12 298.75,45.94 299.50,47.59 300.36,48.04 301.06,45.47 301.79,47.50 302.50,45.26 303.28,49.25 303.94,45.61 305.10,47.16 305.75,44.64 306.35,45.18 306.97,44.38 307.78,44.32 308.56,44.88 309.15,43.31 310.19,43.43 310.91,43.71 311.90,43.54 312.56,41.61 313.72,44.92 314.44,43.34 315.43,43.16 316.10,44.17 316.67,43.86 317.48,40.21 318.16,45.22 318.89,41.37 319.51,43.30 320.54,42.22 321.48,40.33 322.22,41.10 323.00,42.24 324.04,41.83 325.04,42.96 325.93,40.46" fill="none" stroke="#000" stroke-width="1.2" stroke-linejoin="round"/>
<polyline points="239.40,104.90 240.55,99.29 241.51,97.25 242.55,92.18 243.30,91.54 243.91,89.54 244.86,84.37 245.96,83.68 247.07,80.81 247.98,78.20 249.00,77.10 249.93,73.89 250.52,73.09 251.14,73.47 251.94,70.97 252.66,70.68 253.35,69.70 254.19,68.67 255.00,67.26 255.52,66.32 256.28,63.92 257.33,62.35 257.86,63.00 258.91,61.41 259.95,60.82 260.58,61.66 261.58,59.23 262.60,59.16 263.24,59.05 264.13,59.69 264.66,59.29 265.23,56.80 265.88,57.79 266.43,59.10 267.22,56.71 267.85,58.78 268.95,58.85 270.02,57.17 271.18,54.93 272.36,56.55 273.50,56.56 274.05,55.78 274.59,56.87 275.70,56.42 276.22,54.05 277.13,54.72 278.14,53.52 278.73,53.15 279.47,52.82 280.50,52.29 281.62,53.16 282.36,52.88 283.39,54.23 284.16,51.84 285.33,53.57 286.42,52.84 287.38,50.37 288.30,52.69 289.42,49.25 290.42,49.52 291.18,50.81 292.05,48.98 292.87,51.57 293.59,50.00 294.43,49.53 295.06,48.46 295.61,49.89 296.33,49.31 297.08,50.28 297.83,50.82 298.35,50.23 299.00,47.74 299.66,49.04 300.70,49.31 301.26,49.55 302.17,48.20 302.94,46.73 303.88,46.56 304.45,46.91 305.03,47.50 305.58,49.07 306.70,46.40 307.88,48.85 308.60,47.08 309.48,47.26 310.10,44.82 310.66,46.17 311.76,47.46 312.80,46.76 313.79,44.92 314.75,44.01 315.40,45.56 315.93,43.91 316.54,43.64 317.42,44.91 318.26,45.29 318.87,44.91 320.03,43.28 320.99,44.27 321.82,45.63 322.70,42.61 323.88,42.28 324.56,43.89 325.08,42.87 325.93,43.83" fill="none" stroke="#000" stroke-width="1.2" stroke-linejoin="round"/>
<polyline points="240.00,103.22 240.62,101.37 241.59,101.33 242.33,96.54 243.00,96.44 243.66,93.28 244.48,89.32 245.23,90.02 246.02,88.31 247.17,82.10 248.32,81.49 249.17,77.91 249.71,79.06 250.49,75.21 251.24,74.02 251.97,73.35 252.53,74.28 253.12,72.00 254.26,68.83 255.41,68.78 256.58,64.73 257.48,65.66 258.46,64.03 259.48,64.75 260.40,63.88 261.52,60.80 262.26,61.83 262.94,61.08 263.92,60.36 264.91,58.95 266.00,58.78 266.90,60.79 267.48,59.92 268.32,58.72 268.83,57.86 269.91,58.80 270.93,57.07 271.80,57.45 272.41,58.23 273.51,57.85 274.21,56.08 274.76,57.56 275.34,55.83 276.39,56.68 277.05,58.65 277.72,54.95 278.32,57.19 279.15,53.74 279.96,55.65 280.78,53.92 281.71,53.03 282.53,54.17 283.32,55.21 284.48,53.91 285.37,52.79 286.40,53.92 287.38,54.19 288.01,54.40 289.12,52.16 290.25,52.86 290.87,54.08 291.91,51.86 292.98,51.82 293.76,53.07 294.49,53.08 295.45,49.78 296.42,52.48 297.10,49.47 297.74,51.00 298.36,50.48 299.25,50.71 300.24,49.32 300.91,49.13 301.82,48.76 302.77,50.45 303.89,49.79 304.44,49.21 305.38,48.43 306.43,47.44 307.50,46.73 308.66,48.04 309.27,48.77 310.24,47.71 310.92,49.20 312.06,48.04 312.65,46.47 313.74,48.31 314.80,45.68 315.95,45.81 316.73,46.34 317.87,46.60 318.81,46.74 319.39,44.21 320.29,43.85 321.27,45.11 322.35,46.05 322.91,43.52 323.67,45.23 324.86,44.67 325.54,44.13" fill="none" stroke="#000" stroke-width="1.2" stroke-linejoin="round"/>
<polyline points="240.00,105.37 241.46,100.38 242.88,94.39 244.42,90.58 245.47,87.71 246.43,86.28 247.52,82.18 248.26,82.26 249.14,80.89 250.01,79.34 250.91,76.16 252.37,74.03 253.17,74.11 253.94,72.20 255.40,69.59 256.21,70.42 257.58,68.94 258.64,68.55 259.45,66.65 260.19,65.72 261.12,64.74 262.22,63.89 263.35,64.12 264.25,63.44 265.11,64.19 266.34,62.03 267.55,64.34 268.48,62.22 269.22,63.76 270.74,63.09 271.48,60.93 272.76,62.94 274.27,60.34 275.68,61.14 276.88,60.80 277.86,58.69 279.29,60.95 280.17,62.42 281.12,59.14 282.07,57.91 282.81,57.85 283.68,61.03 284.65,57.62 285.53,57.91 286.81,58.27 287.73,56.62 288.70,58.07 289.78,58.61 291.00,57.61 292.26,57.78 293.49,56.34 294.59,56.33 296.05,57.15 297.51,54.87 299.05,54.39 299.79,52.87 300.87,56.38 301.61,56.37 302.76,54.30 304.21,56.10 305.05,54.37 306.46,53.87 307.82,55.39 308.75,54.42 310.16,53.81 311.68,53.04 312.34,52.34 313.77,53.32 315.16,51.70 316.18,53.05 317.63,52.21 318.92,50.91 320.02,52.61 320.89,51.79 321.93,51.58 322.64,50.67 323.98,50.00 325.19,53.29 325.87,51.49" fill="none" stroke="#000" stroke-width="1.05" stroke-linejoin="round"/>
<polyline points="242.00,104.90 243.08,102.03 244.19,98.35 245.67,92.78 247.14,89.98 248.48,86.71 249.62,85.26 250.30,82.24 250.98,82.71 251.77,80.92 252.49,80.41 253.73,79.80 254.46,78.02 255.42,76.96 256.92,75.15 257.81,74.19 259.33,72.85 260.45,73.28 261.21,74.09 262.17,74.84 262.97,72.29 263.77,72.70 264.65,71.59 265.32,72.41 266.80,72.12 267.82,70.46 269.23,70.21 270.24,72.20 271.03,70.19 272.27,71.54 273.72,70.11 275.06,72.29 275.84,69.73 276.84,71.18 277.78,71.68 279.04,71.27 279.83,69.08 281.18,68.44 282.11,69.58 283.31,70.73 284.63,69.96 285.95,70.58 287.37,69.23 288.23,69.62 289.11,69.67 290.49,69.04 291.63,69.08 292.74,69.08 293.57,68.26 294.29,68.70 295.52,70.05 296.62,69.91 297.70,69.29 298.40,68.35 299.78,69.14 300.78,69.65 301.51,69.14 302.96,69.72 304.21,70.13 305.08,69.29 306.47,72.61 307.31,69.40 308.04,71.03 309.10,70.70 309.94,69.53 310.83,68.77 312.24,69.64 313.42,68.51 314.49,69.26 315.31,68.09 316.81,69.57 318.09,69.54 319.37,66.71 320.11,68.17 321.10,69.16 322.22,67.07 323.37,69.07 324.84,66.96 325.57,69.67 326.40,69.63" fill="none" stroke="#000" stroke-width="1.05" stroke-linejoin="round"/>
<polyline points="239.00,105.69 239.90,106.16 241.47,107.30 242.77,106.77 244.17,107.29 245.19,107.09 246.81,107.98 248.20,105.58 249.22,108.54 250.07,107.76 250.84,105.38 252.05,106.88 253.65,106.72 254.65,107.52 256.02,105.94 257.08,107.17 258.71,106.14 259.60,107.27 260.66,105.91 262.15,106.75 262.92,109.10 264.08,108.19 265.36,109.51 266.78,108.11 268.28,111.59 269.61,107.32 270.75,106.66 271.81,107.07 273.36,108.38 274.67,106.66 275.90,107.02 277.22,108.93 277.98,107.99 279.56,109.76 280.82,109.85 281.57,107.20 282.96,109.12 284.46,108.92 285.59,107.49 286.98,109.17 288.51,109.71 289.50,108.66 290.72,110.55 291.92,109.32 292.97,107.94 294.19,108.14 295.24,109.44 296.15,112.21 297.61,110.72 299.10,106.70 300.07,108.63 301.34,109.64 302.71,108.07 303.92,109.61 304.69,110.84 305.52,111.84 306.40,109.92 307.50,109.03 309.10,110.24 310.34,111.24 311.59,109.09 312.46,109.42 313.54,109.12 314.90,110.29 316.00,111.79 316.92,112.22 318.45,109.14 319.93,109.08 320.81,110.84 321.72,111.77 323.12,111.65 324.61,111.93 325.57,110.06 326.33,111.60 327.49,113.12" fill="none" stroke="#000" stroke-width="1.25" stroke-linejoin="round"/>
<polyline points="217.50,103.34 217.94,103.08 218.50,105.19 219.47,106.97 220.45,101.90 220.96,105.06 221.89,105.81 222.61,101.95 223.48,105.98 224.22,105.47 225.14,104.24 225.74,106.61 226.30,102.81 226.89,104.01 227.73,104.38 228.26,104.51 229.16,105.00 229.62,107.58 230.30,107.33 230.87,105.70 231.66,106.53 232.37,103.22 232.91,104.11 233.74,104.63 234.38,104.06 235.24,105.79 235.87,105.87 236.83,103.75 237.63,103.36 238.07,103.03 238.71,105.34 239.15,101.95" fill="none" stroke="#000" stroke-width="1.05" stroke-linejoin="round"/>
<polyline points="217.50,101.87 218.14,102.30 218.62,105.29 219.13,105.14 219.62,104.08 220.27,102.75 220.70,104.73 221.24,104.19 222.19,103.02 222.94,106.89 223.83,102.80 224.72,102.42 225.55,105.95 226.09,106.52 226.62,103.82 227.06,104.07 227.70,106.74 228.66,107.94 229.52,103.28 230.29,105.81 230.77,106.68 231.52,102.56 232.17,105.82 233.14,104.36 234.01,106.01 234.74,101.99 235.71,102.15 236.32,105.95 237.01,105.66 237.58,104.66 238.36,101.63 238.86,105.05 239.82,103.11" fill="none" stroke="#000" stroke-width="1.05" stroke-linejoin="round"/>
<polyline points="217.50,102.46 218.09,104.45 218.91,104.08 219.81,106.45 220.72,101.44 221.56,101.17 222.39,105.98 223.35,101.76 223.83,102.51 224.34,101.66 224.78,102.17 225.38,102.74 226.25,105.07 227.00,105.38 227.54,103.31 228.19,104.72 228.65,106.57 229.32,102.91 229.77,102.72 230.36,103.23 230.80,106.58 231.61,104.69 232.56,105.66 233.28,103.49 233.91,103.46 234.80,105.48 235.68,103.09 236.24,101.87 237.19,106.90 238.05,106.69 238.99,102.06 239.59,103.22" fill="none" stroke="#000" stroke-width="1.05" stroke-linejoin="round"/>
<polyline points="217.50,105.16 218.38,105.02 219.30,103.05 220.08,104.77 221.04,104.43 221.99,103.75 222.58,102.37 223.34,104.51 224.24,105.53 225.04,102.36 226.01,102.90 226.93,102.69 227.53,103.15 227.95,103.35 228.60,102.02 229.03,105.80 229.77,102.26 230.25,101.66 230.83,102.14 231.61,103.69 232.23,105.47 232.83,103.52 233.46,102.04 234.37,103.85 235.04,105.62 235.85,103.37 236.61,100.96 237.37,103.42 238.03,102.53 238.94,104.29 239.37,105.86 239.97,102.25" fill="none" stroke="#000" stroke-width="1.05" stroke-linejoin="round"/>
<polyline points="217.50,104.88 218.39,106.84 219.02,104.82 219.61,104.69 220.11,104.93 220.97,102.47 221.42,104.60 222.31,106.92 223.06,103.66 223.66,104.55 224.42,103.89 225.08,105.82 225.82,106.11 226.40,102.93 227.33,103.94 228.18,106.17 228.65,107.05 229.31,102.55 229.88,103.12 230.34,101.95 231.05,102.57 232.00,104.04 232.92,106.68 233.68,102.40 234.52,103.51 235.37,103.86 235.99,106.66 236.75,104.32 237.21,103.97 238.17,104.67 239.02,105.17 240.00,106.10" fill="none" stroke="#000" stroke-width="1.05" stroke-linejoin="round"/>
<polyline points="217.50,105.76 218.34,103.70 219.30,106.10 220.14,103.99 220.77,105.69 221.61,107.31 222.03,104.40 222.47,102.77 223.02,103.00 223.53,106.07 224.00,101.73 224.93,105.76 225.89,103.59 226.53,104.44 227.49,105.38 228.41,105.35 229.14,103.38 230.03,104.98 230.60,102.73 231.46,102.05 232.25,106.45 232.77,105.83 233.53,103.22 234.42,104.56 235.00,102.87 235.45,103.61 236.22,102.00 236.98,105.72 237.45,101.91 238.19,103.78 238.99,101.79 239.91,102.47" fill="none" stroke="#000" stroke-width="1.05" stroke-linejoin="round"/>
<text x="332.50" y="43.10" font-size="6.64" font-weight="bold" text-anchor="start" fill="#000" textLength="30.30" lengthAdjust="spacingAndGlyphs" class="hv">0, 5, 50, 200</text>
<text x="332.50" y="53.70" font-size="6.64" font-weight="bold" text-anchor="start" fill="#000" textLength="9.20" lengthAdjust="spacingAndGlyphs" class="hv">500</text>
<text x="332.80" y="72.70" font-size="6.50" font-weight="bold" text-anchor="start" fill="#000" textLength="11.40" lengthAdjust="spacingAndGlyphs" class="hv">5000</text>
<text x="330.80" y="81.00" font-size="5.40" font-weight="bold" text-anchor="start" fill="#000" textLength="18.30" lengthAdjust="spacingAndGlyphs" class="hv">nM DPI</text>
<text x="335.80" y="115.50" font-size="8.60" font-weight="bold" text-anchor="start" fill="#000" textLength="6.70" lengthAdjust="spacingAndGlyphs" class="hv">ns</text>
<path d="M229.0,87.6 L229.0,97.5 L227.6,97.5 L230.2,100.6 L232.8,97.5 L231.4,97.5 L231.4,87.6 Z" fill="#fff" stroke="#000" stroke-width="0.55"/>
<text x="226.70" y="85.50" font-size="7.99" font-weight="bold" text-anchor="start" fill="#000" textLength="10.40" lengthAdjust="spacingAndGlyphs" class="hv">PMA</text>
<text x="192.30" y="170.90" font-size="13.40" font-weight="bold" text-anchor="start" fill="#000" >E</text>
<line x1="218.50" y1="181.60" x2="327.00" y2="181.60" stroke="#000" stroke-width="1.3"/>
<line x1="218.50" y1="181.60" x2="218.50" y2="183.80" stroke="#000" stroke-width="1.3"/>
<text x="218.50" y="191.80" font-size="5.50" font-weight="bold" text-anchor="middle" fill="#000" >0</text>
<line x1="240.16" y1="181.60" x2="240.16" y2="183.80" stroke="#000" stroke-width="1.3"/>
<text x="240.16" y="191.80" font-size="5.50" font-weight="bold" text-anchor="middle" fill="#000" >100</text>
<line x1="261.82" y1="181.60" x2="261.82" y2="183.80" stroke="#000" stroke-width="1.3"/>
<text x="261.82" y="191.80" font-size="5.50" font-weight="bold" text-anchor="middle" fill="#000" >200</text>
<line x1="283.48" y1="181.60" x2="283.48" y2="183.80" stroke="#000" stroke-width="1.3"/>
<text x="283.48" y="191.80" font-size="5.50" font-weight="bold" text-anchor="middle" fill="#000" >300</text>
<line x1="305.14" y1="181.60" x2="305.14" y2="183.80" stroke="#000" stroke-width="1.3"/>
<text x="305.14" y="191.80" font-size="5.50" font-weight="bold" text-anchor="middle" fill="#000" >400</text>
<line x1="326.80" y1="181.60" x2="326.80" y2="183.80" stroke="#000" stroke-width="1.3"/>
<text x="326.80" y="191.80" font-size="5.50" font-weight="bold" text-anchor="middle" fill="#000" >500</text>
<text x="271.50" y="200.80" font-size="6.00" font-weight="bold" text-anchor="middle" fill="#000" textLength="22.00" lengthAdjust="spacingAndGlyphs" >Time (s)</text>
<line x1="219.50" y1="212.90" x2="219.50" y2="286.80" stroke="#000" stroke-width="1.3"/>
<line x1="217.20" y1="213.30" x2="219.50" y2="213.30" stroke="#000" stroke-width="1.3"/>
<text x="213.70" y="215.30" font-size="5.60" font-weight="bold" text-anchor="end" fill="#000" >0</text>
<line x1="217.20" y1="223.70" x2="219.50" y2="223.70" stroke="#000" stroke-width="1.3"/>
<text x="213.70" y="225.70" font-size="5.60" font-weight="bold" text-anchor="end" fill="#000" >-10</text>
<line x1="217.20" y1="234.10" x2="219.50" y2="234.10" stroke="#000" stroke-width="1.3"/>
<text x="213.70" y="236.10" font-size="5.60" font-weight="bold" text-anchor="end" fill="#000" >-20</text>
<line x1="217.20" y1="244.50" x2="219.50" y2="244.50" stroke="#000" stroke-width="1.3"/>
<text x="213.70" y="246.50" font-size="5.60" font-weight="bold" text-anchor="end" fill="#000" >-30</text>
<line x1="217.20" y1="254.90" x2="219.50" y2="254.90" stroke="#000" stroke-width="1.3"/>
<text x="213.70" y="256.90" font-size="5.60" font-weight="bold" text-anchor="end" fill="#000" >-40</text>
<line x1="217.20" y1="265.30" x2="219.50" y2="265.30" stroke="#000" stroke-width="1.3"/>
<text x="213.70" y="267.30" font-size="5.60" font-weight="bold" text-anchor="end" fill="#000" >-50</text>
<line x1="217.20" y1="275.70" x2="219.50" y2="275.70" stroke="#000" stroke-width="1.3"/>
<text x="213.70" y="277.70" font-size="5.60" font-weight="bold" text-anchor="end" fill="#000" >-60</text>
<line x1="217.20" y1="286.10" x2="219.50" y2="286.10" stroke="#000" stroke-width="1.3"/>
<text x="213.70" y="288.10" font-size="5.60" font-weight="bold" text-anchor="end" fill="#000" >-70</text>
<text x="198.40" y="250.60" font-size="6.30" font-weight="normal" text-anchor="middle" fill="#000" textLength="72.00" lengthAdjust="spacingAndGlyphs" transform="rotate(-90 198.40 250.60)" class="hv">Membrane potential (mV)</text>
<polyline points="233.00,274.06 233.85,242.21 234.47,223.25 235.36,210.47 236.32,206.43 236.92,205.02 237.68,203.93 238.57,201.81 239.33,199.70 239.88,200.17 240.43,202.53 241.25,200.66 241.76,201.42 242.76,199.38 243.69,196.90 244.37,199.78 245.26,196.57 246.26,198.40 246.82,200.05 247.38,197.74 247.86,197.39 248.91,200.51 249.92,197.63 250.56,199.27 251.41,202.78 252.22,202.72 252.98,204.56 253.60,201.92 254.61,204.64 255.13,208.16 256.04,207.51 256.90,207.48 257.94,209.61 258.75,209.77 259.73,212.29 260.30,212.41 260.98,213.24 261.44,214.33 262.33,213.65 263.12,213.01 263.64,214.76 264.16,212.51 264.79,214.54 265.50,213.66 266.31,215.45 267.21,216.91 267.96,217.04 268.71,217.67 269.19,217.71 269.82,217.84 270.68,218.92 271.55,219.36 272.42,220.37 272.99,222.01 273.67,223.51 274.14,221.27 274.94,224.16 275.83,223.23 276.50,224.90 277.52,223.49 278.08,223.70 278.91,226.38 279.68,225.40 280.23,223.55 280.71,224.14 281.50,226.41 282.40,226.31 283.19,225.71 284.16,227.87 285.13,229.10 286.10,226.83 287.11,228.76 287.57,229.29 288.13,229.47 288.85,230.34 289.86,228.72 290.50,230.02 291.09,233.05 291.57,230.40 292.31,232.34 292.89,232.55 293.65,231.00 294.67,232.35 295.31,235.18 296.32,232.29 297.01,235.85 297.73,235.55 298.18,235.45 299.11,233.97 300.08,234.49 300.61,235.51 301.31,236.31 301.90,235.64 302.60,238.00 303.48,236.35 304.16,238.53 304.76,238.06 305.61,238.18 306.38,238.42 307.24,236.93 307.91,238.63 308.53,240.36 309.20,240.31 309.88,240.68 310.70,238.95 311.16,239.12 311.68,238.29 312.20,238.71 312.71,239.01 313.65,241.74 314.44,242.37 315.21,242.88 315.70,239.93 316.24,242.42 316.92,242.00 317.42,242.08 318.29,243.09 319.01,241.41 319.54,240.44 320.40,242.87 320.89,242.73 321.38,244.66 321.84,243.77 322.41,245.23 323.16,242.13 323.78,245.07 324.69,242.55 325.36,242.41" fill="none" stroke="#000" stroke-width="1.15" stroke-linejoin="round"/>
<polyline points="233.40,269.84 234.40,238.80 235.08,216.94 235.93,210.80 236.47,206.11 237.29,207.32 238.24,203.22 238.77,199.89 239.63,199.30 240.45,199.49 241.41,199.02 242.10,200.43 242.57,199.90 243.27,200.37 244.12,196.93 245.00,201.42 246.04,201.62 246.92,199.71 247.43,199.09 248.15,203.45 248.93,200.40 249.80,202.46 250.43,200.75 251.00,202.67 252.05,204.55 252.57,205.45 253.29,204.41 253.97,205.40 254.53,205.77 255.29,208.00 256.32,209.76 256.90,211.34 257.52,209.63 258.04,211.36 258.73,214.60 259.54,211.01 260.03,214.58 260.52,214.51 260.98,213.13 261.63,213.56 262.21,215.81 263.05,214.71 263.66,217.61 264.35,216.89 265.21,217.70 265.77,217.56 266.71,218.39 267.22,217.20 268.27,220.79 269.20,219.58 270.16,217.61 270.80,220.68 271.37,224.02 272.24,224.64 272.85,224.71 273.40,224.05 274.38,223.61 275.15,225.45 275.75,226.20 276.32,224.66 277.28,224.14 278.33,225.74 279.23,226.80 280.23,228.52 281.08,225.75 281.75,228.45 282.71,229.84 283.54,226.80 284.53,230.08 285.56,232.95 286.28,228.05 287.28,232.44 287.98,230.32 288.78,232.93 289.32,230.90 290.16,232.68 290.75,230.92 291.26,235.12 291.85,232.48 292.41,233.72 293.19,235.99 293.69,234.85 294.23,237.09 294.79,235.64 295.37,235.40 296.03,235.09 296.94,234.30 297.57,237.64 298.51,235.94 299.02,236.09 299.67,237.74 300.44,238.82 301.44,238.59 301.95,238.28 302.98,238.43 303.67,241.10 304.55,239.10 305.26,239.61 305.82,242.71 306.61,241.88 307.09,242.31 307.64,239.75 308.16,239.88 308.70,241.80 309.55,239.59 310.28,240.50 310.86,243.19 311.64,239.58 312.17,241.96 312.92,240.63 313.43,242.12 314.00,241.17 314.99,239.87 315.54,243.21 316.19,242.70 316.68,242.57 317.40,243.38 318.45,243.63 319.41,243.86 320.41,246.26 320.87,245.27 321.69,243.87 322.27,246.21 322.83,245.60 323.37,245.16 323.97,244.59 324.70,246.98 325.51,247.77" fill="none" stroke="#000" stroke-width="1.15" stroke-linejoin="round"/>
<polyline points="233.80,269.23 234.38,253.00 234.89,233.28 235.64,213.91 236.42,209.95 236.87,207.58 237.41,203.19 238.08,204.57 238.85,202.19 239.80,202.87 240.67,199.75 241.17,199.05 242.00,200.07 242.61,201.59 243.16,199.84 244.21,201.48 245.16,201.96 245.85,202.65 246.73,200.80 247.57,199.52 248.34,201.46 249.01,201.18 249.91,202.07 250.77,203.99 251.50,205.28 252.36,207.32 253.27,206.02 253.72,208.50 254.63,207.22 255.59,208.79 256.13,212.67 256.94,210.25 257.98,212.06 258.77,214.43 259.81,213.16 260.83,215.56 261.86,217.95 262.74,218.45 263.73,215.90 264.53,216.12 265.12,219.42 265.73,220.13 266.71,219.66 267.41,221.43 268.10,219.84 268.94,222.71 269.46,222.10 270.02,222.28 270.50,224.53 271.50,222.82 272.08,222.64 273.12,226.00 273.83,227.68 274.71,225.08 275.50,228.94 276.26,225.68 276.75,227.37 277.35,228.57 278.15,227.30 278.92,227.24 279.51,229.28 280.15,227.44 281.20,228.35 281.81,232.10 282.48,231.84 283.30,233.48 284.30,232.87 285.29,230.68 285.86,232.90 286.62,235.55 287.57,231.83 288.60,232.63 289.39,234.86 289.93,232.66 290.64,232.86 291.67,233.26 292.52,234.67 293.56,237.10 294.10,234.81 294.66,237.92 295.51,236.44 296.38,235.94 296.95,237.79 297.93,239.15 298.54,239.50 299.30,240.31 299.76,238.51 300.80,239.88 301.73,241.80 302.72,238.30 303.48,241.50 304.37,240.66 305.37,242.13 306.36,242.49 307.23,240.95 307.91,241.30 308.60,242.26 309.52,242.64 310.38,244.70 311.27,243.03 312.09,245.54 312.73,244.40 313.55,244.44 314.34,244.51 314.88,246.74 315.86,244.50 316.73,245.94 317.25,245.34 318.04,246.56 318.98,245.87 319.69,247.48 320.59,245.72 321.33,246.33 321.93,246.58 322.51,249.40 323.16,245.41 323.85,250.93 324.58,247.30 325.57,248.70" fill="none" stroke="#000" stroke-width="1.15" stroke-linejoin="round"/>
<polyline points="234.20,271.41 234.93,248.36 235.68,220.55 236.64,211.88 237.19,208.67 237.70,205.39 238.51,204.12 238.99,204.29 239.62,201.78 240.58,203.08 241.09,202.66 241.74,202.41 242.69,200.18 243.36,202.16 244.15,201.54 245.17,200.13 245.98,198.68 246.77,202.55 247.58,200.54 248.52,200.78 249.47,202.31 250.07,204.45 251.09,203.77 252.05,205.85 252.74,207.70 253.43,208.75 253.99,207.81 254.62,211.40 255.57,209.72 256.08,213.20 257.06,212.97 257.72,213.33 258.32,212.87 259.01,213.23 259.53,215.50 260.08,216.43 260.94,218.97 261.48,218.21 262.31,218.87 263.05,220.73 263.83,220.49 264.59,219.56 265.43,220.37 266.36,220.65 267.20,221.37 268.13,221.57 268.83,222.93 269.58,222.73 270.09,225.81 271.05,225.59 271.68,226.29 272.51,225.28 273.05,226.93 273.81,225.73 274.49,229.38 275.00,227.39 275.72,231.83 276.20,229.13 276.97,227.43 277.71,227.79 278.43,230.10 278.97,227.56 279.97,230.06 280.43,229.43 281.16,231.05 281.68,230.96 282.15,228.27 282.76,229.87 283.63,232.07 284.51,231.66 285.40,233.45 286.34,234.83 287.34,233.79 288.06,234.67 288.93,234.89 289.84,234.28 290.34,233.58 291.31,233.74 291.82,235.76 292.28,236.95 293.13,237.01 293.60,235.31 294.56,236.03 295.03,238.22 295.93,237.00 296.71,238.69 297.71,239.80 298.22,239.93 299.03,240.23 300.07,239.10 300.82,242.25 301.71,242.53 302.63,240.73 303.09,243.52 303.93,243.02 304.63,244.19 305.26,243.86 306.01,242.31 307.00,245.02 307.54,245.62 308.09,242.00 308.60,244.59 309.36,246.84 310.22,245.52 310.71,243.24 311.37,243.27 312.17,247.16 313.22,247.37 314.23,244.71 314.79,244.81 315.81,244.98 316.44,245.60 317.20,246.28 317.79,246.95 318.76,248.26 319.81,246.19 320.28,251.53 320.97,248.85 321.98,248.95 322.48,247.32 322.94,247.55 323.87,248.63 324.70,250.12 325.21,248.98" fill="none" stroke="#000" stroke-width="1.15" stroke-linejoin="round"/>
<polyline points="234.60,271.09 235.16,250.79 235.61,237.17 236.48,214.23 237.12,211.28 237.64,204.57 238.15,208.15 238.66,202.62 239.56,200.67 240.42,202.64 241.38,201.70 242.10,201.22 243.14,204.97 244.18,200.90 244.98,203.79 245.99,203.42 246.51,204.48 247.42,204.14 248.43,203.35 249.43,204.12 249.99,207.05 251.02,207.26 252.06,210.12 252.70,208.45 253.40,212.36 254.04,209.90 255.04,212.00 255.66,212.07 256.41,212.48 257.15,216.60 258.19,214.82 258.86,218.57 259.40,218.64 260.23,217.80 261.06,219.55 261.60,221.79 262.06,220.96 262.84,219.43 263.32,221.42 264.26,224.25 265.29,220.60 265.81,221.35 266.78,222.77 267.79,226.43 268.41,224.29 269.34,224.70 270.06,226.67 270.92,227.58 271.65,227.33 272.60,229.26 273.07,230.02 273.85,227.74 274.62,230.41 275.47,230.48 276.19,229.37 277.03,230.64 278.05,232.63 279.06,231.18 279.67,232.45 280.70,230.60 281.48,233.23 282.13,234.89 282.60,231.35 283.43,234.70 284.26,233.92 284.94,235.35 285.95,236.07 286.71,235.46 287.33,237.86 287.83,236.03 288.53,237.14 289.22,238.43 289.87,239.53 290.60,237.46 291.56,238.82 292.07,237.90 292.86,236.64 293.90,238.90 294.76,237.76 295.46,242.33 296.27,241.02 297.31,240.63 298.00,243.30 298.67,240.89 299.59,242.88 300.49,245.07 301.24,242.25 301.84,247.29 302.62,243.47 303.23,244.52 304.27,242.48 304.93,244.55 305.88,246.97 306.91,245.38 307.50,246.82 308.42,246.62 309.18,246.87 309.89,245.74 310.54,246.83 311.40,245.57 311.88,243.93 312.40,245.35 312.89,246.26 313.59,246.32 314.32,248.84 314.99,248.68 315.83,246.43 316.44,247.78 317.33,246.86 318.00,247.33 318.89,249.08 319.36,248.56 320.07,249.40 321.02,248.73 321.81,251.26 322.30,249.73 323.14,252.70 323.98,253.24 324.52,251.19 325.06,252.30 325.95,250.57" fill="none" stroke="#000" stroke-width="1.15" stroke-linejoin="round"/>
<polyline points="234.20,270.16 234.84,257.36 235.46,241.61 236.00,229.74 237.11,217.63 238.04,216.43 238.79,213.65 239.72,214.92 240.64,211.88 241.50,212.45 242.50,211.94 243.30,212.55 243.86,212.76 244.82,210.87 245.74,212.59 246.56,210.83 247.58,213.12 248.46,213.31 249.38,212.21 250.35,211.61 250.87,212.13 251.71,215.38 252.63,213.52 253.23,215.08 253.74,215.00 254.84,216.00 255.89,218.98 256.63,216.25 257.45,218.52 258.13,219.50 258.80,218.45 259.80,219.23 260.29,220.41 260.96,220.18 261.97,223.55 263.08,222.61 263.63,223.35 264.47,221.62 265.10,224.60 265.89,225.14 266.50,224.88 267.41,226.23 268.50,222.31 269.54,224.29 270.09,227.99 271.11,226.86 271.85,226.17 272.53,228.49 273.30,230.44 273.86,231.11 274.44,228.61 275.26,230.66 275.98,228.64 276.71,230.84 277.41,232.12 277.94,231.52 278.77,231.57 279.52,232.26 280.54,231.91 281.12,232.13 282.13,234.56 283.08,233.71 284.19,234.06 284.80,235.13 285.82,237.12 286.90,235.32 287.93,235.00 288.56,236.07 289.47,236.60 290.06,238.66 290.56,238.07 291.57,239.40 292.28,236.92 293.02,239.69 293.82,239.70 294.38,238.00 295.02,241.34 295.84,239.40 296.47,242.30 297.17,240.43 298.05,241.09 298.98,242.54 299.95,243.67 301.02,243.37 301.99,244.70 302.54,244.89 303.35,243.43 303.91,242.01 304.55,246.16 305.54,246.20 306.55,244.95 307.56,246.79 308.51,247.21 309.61,247.09 310.36,247.26 310.92,246.13 311.67,246.57 312.79,250.01 313.38,247.65 313.89,249.99 314.83,249.25 315.93,249.75 316.70,249.42 317.28,247.78 318.39,250.42 319.20,251.50 319.75,251.80 320.61,251.93 321.43,252.74 322.29,251.84 323.25,251.81 324.24,254.30 324.83,253.70 325.82,254.99" fill="none" stroke="#000" stroke-width="1.05" stroke-linejoin="round"/>
<polyline points="234.80,270.82 235.81,253.48 236.54,244.04 237.42,232.64 238.16,232.70 238.66,229.68 239.33,228.08 240.23,224.92 240.82,224.24 241.80,226.46 242.63,226.75 243.71,226.99 244.50,226.59 245.61,225.64 246.10,226.80 247.18,225.75 248.18,227.15 248.67,224.34 249.53,227.18 250.47,225.20 250.99,226.58 252.09,228.53 252.88,227.83 253.87,227.56 254.35,228.82 255.19,230.39 256.12,230.30 256.61,229.19 257.72,230.61 258.45,231.59 259.37,231.73 260.06,230.87 261.09,234.10 262.10,232.36 263.17,234.57 264.12,235.92 265.18,236.10 266.20,237.69 267.19,239.16 268.14,238.20 269.15,240.20 269.71,239.98 270.51,239.88 271.34,238.37 272.37,241.60 273.47,241.76 274.56,240.33 275.15,243.53 276.20,245.38 276.98,243.11 278.06,243.54 279.00,244.54 279.54,246.38 280.26,245.88 281.18,246.20 281.86,245.25 282.91,247.07 284.01,249.60 285.03,247.70 285.84,249.59 286.80,251.24 287.67,251.76 288.26,252.12 289.23,252.51 289.75,252.87 290.34,251.24 290.95,253.41 292.07,251.84 292.80,252.77 293.30,252.23 294.26,252.41 294.75,252.54 295.76,253.64 296.39,253.79 297.17,256.37 297.82,253.37 298.49,256.86 299.50,256.42 300.28,256.70 301.00,255.36 302.03,256.36 302.95,255.02 303.83,257.70 304.49,257.15 305.49,259.41 306.45,256.23 307.17,257.83 307.66,258.71 308.35,258.13 309.31,257.88 309.86,257.70 310.93,256.96 311.57,256.74 312.57,259.77 313.54,258.69 314.28,257.30 315.25,256.78 315.97,258.25 316.60,258.76 317.63,257.19 318.63,258.91 319.72,260.23 320.67,257.09 321.78,260.54 322.56,259.39 323.18,259.19 323.92,260.42 324.89,259.10 325.72,259.36" fill="none" stroke="#000" stroke-width="1.05" stroke-linejoin="round"/>
<polyline points="235.30,269.74 236.09,261.39 236.67,254.41 237.37,244.34 237.86,238.81 238.52,236.56 239.57,235.00 240.48,233.10 241.29,229.92 242.28,231.66 243.14,229.60 243.93,231.23 244.46,229.56 245.31,229.14 245.93,231.63 246.77,229.37 247.58,231.55 248.31,230.18 249.32,232.55 249.84,230.68 250.80,230.93 251.37,229.67 252.36,232.39 253.05,231.11 253.58,231.78 254.63,232.48 255.31,233.53 256.05,233.37 256.74,236.15 257.73,235.69 258.58,237.09 259.48,238.57 260.25,236.38 261.30,237.13 261.95,240.29 262.59,238.71 263.51,238.61 264.50,240.21 265.42,243.43 266.52,240.37 267.37,241.59 268.36,241.54 269.11,244.89 269.64,243.38 270.61,244.12 271.40,246.65 272.29,247.37 272.97,246.35 273.79,248.22 274.45,247.77 275.11,249.20 276.19,248.90 276.91,251.23 277.73,248.73 278.48,249.17 279.47,249.27 280.14,248.31 280.78,249.76 281.40,252.53 281.95,253.16 282.82,252.29 283.77,251.71 284.43,252.71 285.28,254.84 286.13,254.69 287.07,253.77 287.90,255.08 288.74,256.68 289.38,255.14 290.10,255.17 290.82,257.00 291.42,256.75 292.39,258.15 293.11,259.10 293.62,260.09 294.61,257.48 295.56,260.59 296.57,261.37 297.05,261.00 297.75,261.93 298.58,260.84 299.39,259.20 300.48,262.58 301.09,262.21 301.66,264.56 302.40,263.28 303.48,261.94 304.13,263.43 304.92,262.14 305.95,262.15 306.74,263.98 307.54,265.18 308.21,265.31 308.99,262.76 309.98,263.79 310.74,261.99 311.57,264.82 312.48,262.72 313.10,263.48 313.82,266.77 314.85,263.71 315.58,266.11 316.47,265.59 317.02,267.66 317.56,263.37 318.44,266.79 318.98,264.41 319.88,266.58 320.47,263.38 321.54,266.67 322.48,267.51 323.24,266.59 324.13,266.04 324.93,264.73 325.74,266.73" fill="none" stroke="#000" stroke-width="1.05" stroke-linejoin="round"/>
<polyline points="233.50,274.06 234.90,273.23 236.32,271.85 238.00,273.07 238.88,273.68 239.73,274.53 241.09,272.84 241.89,274.34 242.85,275.90 244.36,274.26 245.30,272.91 246.81,274.53 247.85,274.22 249.45,274.95 250.80,275.15 251.69,274.25 252.81,273.52 254.16,274.97 255.18,276.63 256.37,276.39 257.21,276.80 258.33,276.47 259.59,275.66 260.56,274.94 262.20,277.01 263.07,278.21 263.85,276.43 265.29,276.81 266.65,277.47 268.14,275.69 268.88,276.07 269.68,275.82 271.35,277.08 272.69,277.03 273.76,277.94 274.49,279.03 276.09,277.59 277.20,275.63 278.21,277.52 279.32,277.44 280.33,277.26 281.83,276.94 283.11,277.21 284.18,277.46 285.51,276.82 287.07,277.06 288.60,280.79 289.34,277.30 290.26,278.04 291.70,276.39 293.30,279.53 294.64,279.48 295.85,279.99 296.82,277.52 297.92,277.86 299.02,276.56 299.78,278.54 300.96,277.54 301.75,279.91 302.94,277.25 304.01,277.39 304.77,277.80 306.35,278.73 307.20,278.26 308.04,277.66 308.76,276.77 310.07,278.11 311.55,280.30 312.57,277.79 314.05,279.21 315.64,277.87 317.19,278.16 318.05,280.82 319.58,278.25 321.24,277.49 322.39,280.89 323.82,278.74 325.49,280.85" fill="none" stroke="#000" stroke-width="1.25" stroke-linejoin="round"/>
<polyline points="219.50,272.96 219.99,272.69 220.51,275.27 221.28,271.42 221.83,274.87 222.19,271.13 222.70,274.47 223.30,273.86 223.95,271.38 224.32,271.42 224.80,275.31 225.22,275.63 225.68,271.41 226.35,271.58 226.94,274.70 227.62,272.38 228.02,271.01 228.53,275.12 229.26,274.39 229.71,275.63 230.52,273.21 231.06,275.72 231.49,271.26 232.11,270.10 232.70,275.21 233.51,274.26" fill="none" stroke="#000" stroke-width="1.05" stroke-linejoin="round"/>
<polyline points="219.50,273.06 220.25,271.30 220.94,271.58 221.50,270.16 222.16,274.12 222.82,272.22 223.25,271.64 223.75,272.49 224.58,275.21 225.24,274.32 225.73,270.37 226.12,269.43 226.66,276.29 227.22,271.48 227.62,272.94 228.27,271.58 228.83,269.37 229.38,272.62 230.05,271.24 230.87,269.92 231.41,270.33 232.14,275.43 232.72,275.40 233.42,271.25" fill="none" stroke="#000" stroke-width="1.05" stroke-linejoin="round"/>
<polyline points="219.50,271.14 220.33,272.58 221.12,272.65 221.55,276.36 222.00,272.45 222.61,271.98 223.25,270.63 223.65,273.00 224.30,271.93 224.83,275.93 225.34,272.22 226.03,270.29 226.74,273.08 227.10,269.69 227.64,276.05 228.41,273.10 229.20,271.82 229.90,272.15 230.43,272.93 230.84,273.09 231.26,270.69 231.87,273.33 232.29,273.30 232.78,276.19" fill="none" stroke="#000" stroke-width="1.05" stroke-linejoin="round"/>
<polyline points="219.50,271.29 220.30,269.95 221.02,270.16 221.41,274.60 222.07,274.32 222.84,270.52 223.53,275.41 224.31,271.25 224.96,273.75 225.56,275.02 225.93,271.19 226.76,272.38 227.57,274.96 228.12,271.37 228.66,269.35 229.49,273.69 230.10,270.40 230.93,272.41 231.65,270.33 232.18,272.02 232.80,270.26 233.58,274.57" fill="none" stroke="#000" stroke-width="1.05" stroke-linejoin="round"/>
<polyline points="219.50,273.51 220.05,270.09 220.89,275.35 221.63,274.93 222.31,274.71 222.88,270.02 223.56,269.25 223.97,272.19 224.44,273.48 225.17,269.70 225.89,270.93 226.39,271.76 226.84,271.14 227.30,269.64 227.98,268.77 228.73,274.05 229.52,272.59 230.15,274.53 230.83,270.07 231.31,271.67 231.85,274.74 232.35,269.63 233.15,269.54" fill="none" stroke="#000" stroke-width="1.05" stroke-linejoin="round"/>
<polyline points="219.50,271.21 220.27,272.72 220.89,273.27 221.68,272.27 222.17,273.04 222.55,272.02 223.32,274.49 223.75,272.76 224.28,274.73 224.95,271.85 225.65,274.29 226.17,274.84 226.66,272.17 227.14,269.95 227.89,274.62 228.46,275.29 229.02,271.72 229.50,270.93 230.13,274.05 230.50,271.76 231.07,275.99 231.50,274.55 232.06,274.08 232.90,276.72" fill="none" stroke="#000" stroke-width="1.05" stroke-linejoin="round"/>
<text x="330.10" y="251.80" font-size="6.50" font-weight="bold" text-anchor="start" fill="#000" textLength="30.30" lengthAdjust="spacingAndGlyphs" class="hv">0, 5, 50, 200</text>
<text x="332.60" y="261.80" font-size="4.60" font-weight="bold" text-anchor="start" fill="#000" textLength="7.80" lengthAdjust="spacingAndGlyphs" class="hv">500</text>
<text x="331.70" y="266.50" font-size="4.60" font-weight="bold" text-anchor="start" fill="#000" textLength="10.00" lengthAdjust="spacingAndGlyphs" class="hv">2000</text>
<text x="331.70" y="271.20" font-size="4.60" font-weight="bold" text-anchor="start" fill="#000" textLength="10.00" lengthAdjust="spacingAndGlyphs" class="hv">5000</text>
<text x="329.00" y="276.50" font-size="5.20" font-weight="bold" text-anchor="start" fill="#000" textLength="17.30" lengthAdjust="spacingAndGlyphs" class="hv">nM DPI</text>
<text x="332.30" y="284.30" font-size="7.40" font-weight="bold" text-anchor="start" fill="#000" textLength="4.60" lengthAdjust="spacingAndGlyphs" class="hv">ns</text>
<path d="M232.3,280.9 L229.6,285 L231.2,285 L231.2,292.8 L233.4,292.8 L233.4,285 L235,285 Z" fill="#fff" stroke="#000" stroke-width="0.5"/>
<text x="225.10" y="301.40" font-size="8.72" font-weight="bold" text-anchor="start" fill="#000" textLength="15.60" lengthAdjust="spacingAndGlyphs" class="hv">fMLP</text>
<text x="371.20" y="10.30" font-size="13.40" font-weight="bold" text-anchor="start" fill="#000" >C</text>
<line x1="408.70" y1="21.20" x2="408.70" y2="124.90" stroke="#000" stroke-width="1.3"/>
<line x1="406.30" y1="124.40" x2="408.70" y2="124.40" stroke="#000" stroke-width="1.3"/>
<text x="404.30" y="126.55" font-size="6.10" font-weight="bold" text-anchor="end" fill="#000" >0%</text>
<line x1="406.30" y1="107.20" x2="408.70" y2="107.20" stroke="#000" stroke-width="1.3"/>
<text x="404.30" y="109.35" font-size="6.10" font-weight="bold" text-anchor="end" fill="#000" >20%</text>
<line x1="406.30" y1="90.00" x2="408.70" y2="90.00" stroke="#000" stroke-width="1.3"/>
<text x="404.30" y="92.15" font-size="6.10" font-weight="bold" text-anchor="end" fill="#000" >40%</text>
<line x1="406.30" y1="72.80" x2="408.70" y2="72.80" stroke="#000" stroke-width="1.3"/>
<text x="404.30" y="74.95" font-size="6.10" font-weight="bold" text-anchor="end" fill="#000" >60%</text>
<line x1="406.30" y1="55.60" x2="408.70" y2="55.60" stroke="#000" stroke-width="1.3"/>
<text x="404.30" y="57.75" font-size="6.10" font-weight="bold" text-anchor="end" fill="#000" >80%</text>
<line x1="406.30" y1="38.40" x2="408.70" y2="38.40" stroke="#000" stroke-width="1.3"/>
<text x="404.30" y="40.55" font-size="6.10" font-weight="bold" text-anchor="end" fill="#000" >100%</text>
<line x1="406.30" y1="21.20" x2="408.70" y2="21.20" stroke="#000" stroke-width="1.3"/>
<text x="404.30" y="23.35" font-size="6.10" font-weight="bold" text-anchor="end" fill="#000" >120%</text>
<line x1="408.10" y1="124.40" x2="516.90" y2="124.40" stroke="#000" stroke-width="1.3"/>
<rect x="411.40" y="38.40" width="6.30" height="86.00" fill="#8d8d8d" stroke="#333" stroke-width="0.4"/>
<rect x="417.70" y="38.40" width="6.80" height="86.00" fill="#000"/>
<rect x="429.40" y="39.26" width="6.30" height="85.14" fill="#8d8d8d" stroke="#333" stroke-width="0.4"/>
<rect x="435.70" y="41.84" width="6.80" height="82.56" fill="#000"/>
<line x1="432.55" y1="39.26" x2="432.55" y2="37.97" stroke="#000" stroke-width="0.7"/>
<line x1="430.75" y1="37.97" x2="434.35" y2="37.97" stroke="#000" stroke-width="0.7"/>
<line x1="439.10" y1="41.84" x2="439.10" y2="33.24" stroke="#000" stroke-width="0.7"/>
<line x1="437.30" y1="33.24" x2="440.90" y2="33.24" stroke="#000" stroke-width="0.7"/>
<rect x="447.40" y="57.32" width="6.30" height="67.08" fill="#8d8d8d" stroke="#333" stroke-width="0.4"/>
<rect x="453.70" y="40.12" width="6.80" height="84.28" fill="#000"/>
<line x1="450.55" y1="57.32" x2="450.55" y2="53.45" stroke="#000" stroke-width="0.7"/>
<line x1="448.75" y1="53.45" x2="452.35" y2="53.45" stroke="#000" stroke-width="0.7"/>
<line x1="457.10" y1="40.12" x2="457.10" y2="32.38" stroke="#000" stroke-width="0.7"/>
<line x1="455.30" y1="32.38" x2="458.90" y2="32.38" stroke="#000" stroke-width="0.7"/>
<rect x="465.40" y="87.42" width="6.30" height="36.98" fill="#8d8d8d" stroke="#333" stroke-width="0.4"/>
<rect x="471.70" y="59.04" width="6.80" height="65.36" fill="#000"/>
<line x1="468.55" y1="87.42" x2="468.55" y2="83.55" stroke="#000" stroke-width="0.7"/>
<line x1="466.75" y1="83.55" x2="470.35" y2="83.55" stroke="#000" stroke-width="0.7"/>
<line x1="475.10" y1="59.04" x2="475.10" y2="43.56" stroke="#000" stroke-width="0.7"/>
<line x1="473.30" y1="43.56" x2="476.90" y2="43.56" stroke="#000" stroke-width="0.7"/>
<rect x="483.40" y="103.07" width="6.30" height="21.33" fill="#8d8d8d" stroke="#333" stroke-width="0.4"/>
<rect x="489.70" y="59.04" width="6.80" height="65.36" fill="#000"/>
<line x1="486.55" y1="103.07" x2="486.55" y2="101.09" stroke="#000" stroke-width="0.7"/>
<line x1="484.75" y1="101.09" x2="488.35" y2="101.09" stroke="#000" stroke-width="0.7"/>
<line x1="493.10" y1="59.04" x2="493.10" y2="48.72" stroke="#000" stroke-width="0.7"/>
<line x1="491.30" y1="48.72" x2="494.90" y2="48.72" stroke="#000" stroke-width="0.7"/>
<rect x="501.40" y="120.10" width="6.30" height="4.30" fill="#8d8d8d" stroke="#333" stroke-width="0.4"/>
<rect x="507.70" y="79.68" width="6.80" height="44.72" fill="#000"/>
<line x1="504.55" y1="120.10" x2="504.55" y2="119.24" stroke="#000" stroke-width="0.7"/>
<line x1="502.75" y1="119.24" x2="506.35" y2="119.24" stroke="#000" stroke-width="0.7"/>
<line x1="511.10" y1="79.68" x2="511.10" y2="63.34" stroke="#000" stroke-width="0.7"/>
<line x1="509.30" y1="63.34" x2="512.90" y2="63.34" stroke="#000" stroke-width="0.7"/>
<line x1="426.70" y1="124.40" x2="426.70" y2="126.60" stroke="#000" stroke-width="1.3"/>
<line x1="444.70" y1="124.40" x2="444.70" y2="126.60" stroke="#000" stroke-width="1.3"/>
<line x1="462.70" y1="124.40" x2="462.70" y2="126.60" stroke="#000" stroke-width="1.3"/>
<line x1="480.70" y1="124.40" x2="480.70" y2="126.60" stroke="#000" stroke-width="1.3"/>
<line x1="498.70" y1="124.40" x2="498.70" y2="126.60" stroke="#000" stroke-width="1.3"/>
<line x1="516.70" y1="124.40" x2="516.70" y2="126.60" stroke="#000" stroke-width="1.3"/>
<text x="418.00" y="135.50" font-size="5.80" font-weight="bold" text-anchor="middle" fill="#000" >0</text>
<text x="436.00" y="135.50" font-size="5.80" font-weight="bold" text-anchor="middle" fill="#000" >5</text>
<text x="454.00" y="135.50" font-size="5.80" font-weight="bold" text-anchor="middle" fill="#000" >50</text>
<text x="472.00" y="135.50" font-size="5.80" font-weight="bold" text-anchor="middle" fill="#000" >200</text>
<text x="490.00" y="135.50" font-size="5.80" font-weight="bold" text-anchor="middle" fill="#000" >500</text>
<text x="508.00" y="135.50" font-size="5.80" font-weight="bold" text-anchor="middle" fill="#000" >5000</text>
<text x="455.80" y="145.30" font-size="6.20" font-weight="bold" text-anchor="middle" fill="#000" textLength="29.00" lengthAdjust="spacingAndGlyphs" >[DPI] (nM)</text>
<rect x="428.50" y="18.10" width="4.00" height="4.10" fill="#8d8d8d" stroke="#222" stroke-width="0.5"/>
<text x="433.60" y="22.10" font-size="6.05" font-weight="bold" text-anchor="start" fill="#000" textLength="65.40" lengthAdjust="spacingAndGlyphs" >superoxide production</text>
<rect x="428.50" y="26.90" width="4.00" height="3.90" fill="#000"/>
<text x="433.60" y="30.80" font-size="6.05" font-weight="bold" text-anchor="start" fill="#000" textLength="72.80" lengthAdjust="spacingAndGlyphs" >membrane depolarization</text>
<text x="377.00" y="70.20" font-size="6.30" font-weight="normal" text-anchor="middle" fill="#000" textLength="88.80" lengthAdjust="spacingAndGlyphs" transform="rotate(-90 377.00 70.20)" class="hv">O<tspan font-size="3.8" dy="1.3">2</tspan><tspan font-size="3.8" dy="-3.3">·-</tspan><tspan dy="2.0">-production or membrane</tspan></text>
<text x="387.50" y="69.80" font-size="6.50" font-weight="normal" text-anchor="middle" fill="#000" textLength="43.60" lengthAdjust="spacingAndGlyphs" transform="rotate(-90 387.50 69.80)" class="hv">depolarization</text>
<text x="373.90" y="172.50" font-size="13.40" font-weight="bold" text-anchor="start" fill="#000" >F</text>
<line x1="408.30" y1="181.70" x2="408.30" y2="286.30" stroke="#000" stroke-width="1.3"/>
<line x1="406.00" y1="285.80" x2="408.30" y2="285.80" stroke="#000" stroke-width="1.3"/>
<text x="404.10" y="287.95" font-size="6.10" font-weight="bold" text-anchor="end" fill="#000" >0%</text>
<line x1="406.00" y1="268.45" x2="408.30" y2="268.45" stroke="#000" stroke-width="1.3"/>
<text x="404.10" y="270.60" font-size="6.10" font-weight="bold" text-anchor="end" fill="#000" >20%</text>
<line x1="406.00" y1="251.10" x2="408.30" y2="251.10" stroke="#000" stroke-width="1.3"/>
<text x="404.10" y="253.25" font-size="6.10" font-weight="bold" text-anchor="end" fill="#000" >40%</text>
<line x1="406.00" y1="233.75" x2="408.30" y2="233.75" stroke="#000" stroke-width="1.3"/>
<text x="404.10" y="235.90" font-size="6.10" font-weight="bold" text-anchor="end" fill="#000" >60%</text>
<line x1="406.00" y1="216.40" x2="408.30" y2="216.40" stroke="#000" stroke-width="1.3"/>
<text x="404.10" y="218.55" font-size="6.10" font-weight="bold" text-anchor="end" fill="#000" >80%</text>
<line x1="406.00" y1="199.05" x2="408.30" y2="199.05" stroke="#000" stroke-width="1.3"/>
<text x="404.10" y="201.20" font-size="6.10" font-weight="bold" text-anchor="end" fill="#000" >100%</text>
<line x1="406.00" y1="181.70" x2="408.30" y2="181.70" stroke="#000" stroke-width="1.3"/>
<text x="404.10" y="183.85" font-size="6.10" font-weight="bold" text-anchor="end" fill="#000" >120%</text>
<line x1="407.80" y1="285.80" x2="517.60" y2="285.80" stroke="#000" stroke-width="1.3"/>
<rect x="411.10" y="199.05" width="6.70" height="86.75" fill="#c4c4c4" stroke="#333" stroke-width="0.5"/>
<rect x="417.80" y="199.05" width="6.70" height="86.75" fill="#3c3c3c" stroke="#000" stroke-width="0.5"/>
<rect x="429.34" y="199.05" width="6.70" height="86.75" fill="#c4c4c4" stroke="#333" stroke-width="0.5"/>
<rect x="436.04" y="205.99" width="6.70" height="79.81" fill="#3c3c3c" stroke="#000" stroke-width="0.5"/>
<line x1="432.69" y1="199.05" x2="432.69" y2="194.37" stroke="#000" stroke-width="0.7"/>
<line x1="430.89" y1="194.37" x2="434.49" y2="194.37" stroke="#000" stroke-width="0.7"/>
<line x1="439.39" y1="205.99" x2="439.39" y2="204.43" stroke="#000" stroke-width="0.7"/>
<line x1="437.59" y1="204.43" x2="441.19" y2="204.43" stroke="#000" stroke-width="0.7"/>
<rect x="447.58" y="240.00" width="6.70" height="45.80" fill="#c4c4c4" stroke="#333" stroke-width="0.5"/>
<rect x="454.28" y="205.12" width="6.70" height="80.68" fill="#3c3c3c" stroke="#000" stroke-width="0.5"/>
<line x1="450.93" y1="240.00" x2="450.93" y2="233.49" stroke="#000" stroke-width="0.7"/>
<line x1="449.13" y1="233.49" x2="452.73" y2="233.49" stroke="#000" stroke-width="0.7"/>
<line x1="457.63" y1="205.12" x2="457.63" y2="204.60" stroke="#000" stroke-width="0.7"/>
<line x1="455.83" y1="204.60" x2="459.43" y2="204.60" stroke="#000" stroke-width="0.7"/>
<rect x="465.82" y="265.85" width="6.70" height="19.95" fill="#c4c4c4" stroke="#333" stroke-width="0.5"/>
<rect x="472.52" y="213.80" width="6.70" height="72.00" fill="#3c3c3c" stroke="#000" stroke-width="0.5"/>
<line x1="469.17" y1="265.85" x2="469.17" y2="263.25" stroke="#000" stroke-width="0.7"/>
<line x1="467.37" y1="263.25" x2="470.97" y2="263.25" stroke="#000" stroke-width="0.7"/>
<line x1="475.87" y1="213.80" x2="475.87" y2="212.06" stroke="#000" stroke-width="0.7"/>
<line x1="474.07" y1="212.06" x2="477.67" y2="212.06" stroke="#000" stroke-width="0.7"/>
<rect x="484.06" y="277.12" width="6.70" height="8.68" fill="#c4c4c4" stroke="#333" stroke-width="0.5"/>
<rect x="490.76" y="220.74" width="6.70" height="65.06" fill="#3c3c3c" stroke="#000" stroke-width="0.5"/>
<line x1="487.41" y1="277.12" x2="487.41" y2="275.82" stroke="#000" stroke-width="0.7"/>
<line x1="485.61" y1="275.82" x2="489.21" y2="275.82" stroke="#000" stroke-width="0.7"/>
<line x1="494.11" y1="220.74" x2="494.11" y2="220.22" stroke="#000" stroke-width="0.7"/>
<line x1="492.31" y1="220.22" x2="495.91" y2="220.22" stroke="#000" stroke-width="0.7"/>
<rect x="502.30" y="284.93" width="6.70" height="0.87" fill="#c4c4c4" stroke="#333" stroke-width="0.5"/>
<rect x="509.00" y="241.56" width="6.70" height="44.24" fill="#3c3c3c" stroke="#000" stroke-width="0.5"/>
<line x1="512.35" y1="241.56" x2="512.35" y2="241.04" stroke="#000" stroke-width="0.7"/>
<line x1="510.55" y1="241.04" x2="514.15" y2="241.04" stroke="#000" stroke-width="0.7"/>
<line x1="426.90" y1="285.80" x2="426.90" y2="288.00" stroke="#000" stroke-width="1.3"/>
<line x1="445.14" y1="285.80" x2="445.14" y2="288.00" stroke="#000" stroke-width="1.3"/>
<line x1="463.38" y1="285.80" x2="463.38" y2="288.00" stroke="#000" stroke-width="1.3"/>
<line x1="481.62" y1="285.80" x2="481.62" y2="288.00" stroke="#000" stroke-width="1.3"/>
<line x1="499.86" y1="285.80" x2="499.86" y2="288.00" stroke="#000" stroke-width="1.3"/>
<line x1="518.10" y1="285.80" x2="518.10" y2="288.00" stroke="#000" stroke-width="1.3"/>
<text x="418.10" y="297.30" font-size="5.80" font-weight="bold" text-anchor="middle" fill="#000" >0</text>
<text x="436.34" y="297.30" font-size="5.80" font-weight="bold" text-anchor="middle" fill="#000" >5</text>
<text x="454.58" y="297.30" font-size="5.80" font-weight="bold" text-anchor="middle" fill="#000" >50</text>
<text x="472.82" y="297.30" font-size="5.80" font-weight="bold" text-anchor="middle" fill="#000" >200</text>
<text x="491.06" y="297.30" font-size="5.80" font-weight="bold" text-anchor="middle" fill="#000" >500</text>
<text x="509.30" y="297.30" font-size="5.80" font-weight="bold" text-anchor="middle" fill="#000" >5000</text>
<text x="465.60" y="306.30" font-size="6.40" font-weight="bold" text-anchor="middle" fill="#000" textLength="30.40" lengthAdjust="spacingAndGlyphs" >[DPI] (nM)</text>
<rect x="431.10" y="177.90" width="4.00" height="3.80" fill="#c4c4c4" stroke="#333" stroke-width="0.5"/>
<text x="436.70" y="182.40" font-size="6.05" font-weight="bold" text-anchor="start" fill="#000" textLength="65.00" lengthAdjust="spacingAndGlyphs" >superoxide production</text>
<rect x="431.10" y="186.80" width="4.00" height="3.80" fill="#3c3c3c" stroke="#000" stroke-width="0.4"/>
<text x="436.70" y="191.00" font-size="6.05" font-weight="bold" text-anchor="start" fill="#000" textLength="72.60" lengthAdjust="spacingAndGlyphs" >membrane depolarization</text>
<text x="377.00" y="229.00" font-size="6.30" font-weight="normal" text-anchor="middle" fill="#000" textLength="85.30" lengthAdjust="spacingAndGlyphs" transform="rotate(-90 377.00 229.00)" class="hv">O<tspan font-size="3.8" dy="1.3">2</tspan><tspan font-size="3.8" dy="-3.3">·-</tspan><tspan dy="2.0">-production or membrane</tspan></text>
<text x="388.40" y="230.50" font-size="6.50" font-weight="normal" text-anchor="middle" fill="#000" textLength="43.00" lengthAdjust="spacingAndGlyphs" transform="rotate(-90 388.40 230.50)" class="hv">depolarization</text>
</g></svg>
</body></html>
